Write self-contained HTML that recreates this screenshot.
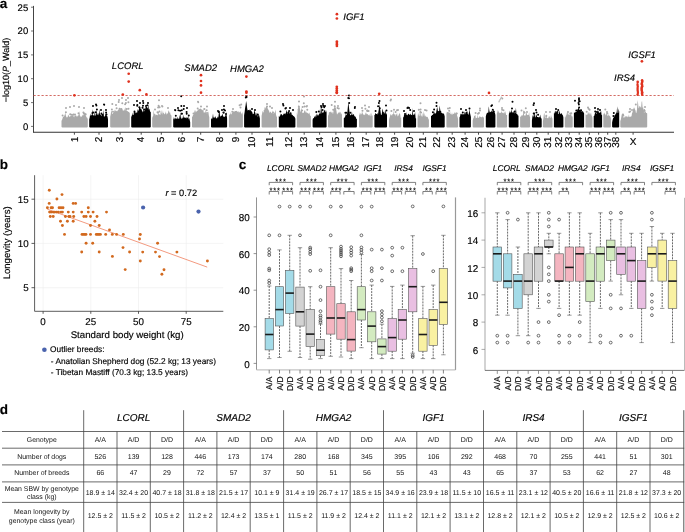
<!DOCTYPE html>
<html><head><meta charset="utf-8"><style>
html,body{margin:0;padding:0;background:#fff;}
svg{display:block;will-change:transform;}
text{font-family:"Liberation Sans", sans-serif;fill:#000;stroke:#000;stroke-width:0.15px;text-rendering:geometricPrecision;}
text.tb{stroke:none;fill:#111;}
</style></head><body>
<svg width="685" height="532" viewBox="0 0 685 532">
<rect width="685" height="532" fill="#fff"/>
<text x="-0.3" y="8.2" font-size="13.5" font-weight="bold">a</text>
<text transform="translate(8.6,70) rotate(-90)" font-size="9" text-anchor="middle">−log10(<tspan font-style="italic">P</tspan>_Wald)</text>
<line x1="31" y1="126.4" x2="33.5" y2="126.4" stroke="#666" stroke-width="0.9"/>
<text x="28.2" y="129.8" font-size="9.5" text-anchor="end">0</text>
<line x1="31" y1="102.6" x2="33.5" y2="102.6" stroke="#666" stroke-width="0.9"/>
<text x="28.2" y="106.0" font-size="9.5" text-anchor="end">5</text>
<line x1="31" y1="78.7" x2="33.5" y2="78.7" stroke="#666" stroke-width="0.9"/>
<text x="28.2" y="82.1" font-size="9.5" text-anchor="end">10</text>
<line x1="31" y1="54.9" x2="33.5" y2="54.9" stroke="#666" stroke-width="0.9"/>
<text x="28.2" y="58.3" font-size="9.5" text-anchor="end">15</text>
<line x1="31" y1="31.0" x2="33.5" y2="31.0" stroke="#666" stroke-width="0.9"/>
<text x="28.2" y="34.4" font-size="9.5" text-anchor="end">20</text>
<line x1="31" y1="7.2" x2="33.5" y2="7.2" stroke="#666" stroke-width="0.9"/>
<text x="28.2" y="10.6" font-size="9.5" text-anchor="end">25</text>
<line x1="33.5" y1="5.9" x2="33.5" y2="132.3" stroke="#444" stroke-width="1"/>
<line x1="33.0" y1="132.3" x2="674.0" y2="132.3" stroke="#333" stroke-width="1.1"/>
<path d="M61.5,126.8 Q61.5,127.6 62.5,127.6 L86.8,127.6 Q87.8,127.6 87.8,126.8 L87.8,119.3 L87.3,117.7 L86.8,117.6 L86.3,117.1 L85.8,113.2 L85.3,116.1 L84.8,113.8 L84.3,113.3 L83.8,115.8 L83.2,113.4 L82.7,116.3 L82.2,114.4 L81.7,116.9 L81.2,116.4 L80.7,116.1 L80.2,117.5 L79.7,110.7 L79.2,115.6 L78.7,116.2 L78.2,113.2 L77.7,116.7 L77.2,116.1 L76.7,116.8 L76.2,115.6 L75.7,115.0 L75.2,116.0 L74.7,115.1 L74.1,117.4 L73.6,116.5 L73.1,113.4 L72.6,115.4 L72.1,115.1 L71.6,116.2 L71.1,115.3 L70.6,116.1 L70.1,116.4 L69.6,117.1 L69.1,116.3 L68.6,115.5 L68.1,114.5 L67.6,117.3 L67.1,117.3 L66.6,117.4 L66.1,116.2 L65.5,112.0 L65.0,116.4 L64.5,114.0 L64.0,116.8 L63.5,116.5 L63.0,116.8 L62.5,118.6 L62.0,120.1 L61.5,120.7 Z" fill="#a9a9a9"/>
<path d="M62.6 115.4h0M71.5 114.8h0M85.7 114.2h0M75.0 114.6h0M78.9 116.4h0M84.4 113.5h0M83.8 113.3h0M65.9 112.3h0M66.0 108.0h0M70.2 114.2h0M70.0 107.0h0M73.4 114.4h0M74.0 106.0h0M78.5 113.3h0M79.0 107.0h0M83.4 112.6h0M84.0 108.0h0" stroke="#a9a9a9" stroke-width="2" stroke-linecap="round" fill="none"/>
<line x1="74.4" y1="132.3" x2="74.4" y2="134.7" stroke="#333" stroke-width="0.9"/>
<text transform="translate(77.5,136.6) rotate(-90)" font-size="10" text-anchor="end">1</text>
<path d="M89.2,126.8 Q89.2,127.6 90.2,127.6 L107.0,127.6 Q108.0,127.6 108.0,126.8 L108.0,119.2 L107.5,116.6 L107.0,116.0 L106.5,114.6 L106.0,115.9 L105.5,112.8 L105.0,116.2 L104.4,116.4 L103.9,116.4 L103.4,109.7 L102.9,115.3 L102.4,113.8 L101.9,115.3 L101.4,116.3 L100.9,115.3 L100.4,114.5 L99.9,113.7 L99.4,109.1 L98.9,115.4 L98.3,113.3 L97.8,113.3 L97.3,115.3 L96.8,114.3 L96.3,109.5 L95.8,115.8 L95.3,115.6 L94.8,110.8 L94.3,115.8 L93.8,115.3 L93.3,115.6 L92.8,115.0 L92.2,109.1 L91.7,115.6 L91.2,115.1 L90.7,115.9 L90.2,113.5 L89.7,117.6 L89.2,119.4 Z" fill="#000"/>
<path d="M93.2 112.4h0M95.8 112.3h0M106.5 114.5h0M96.9 109.6h0M102.4 115.1h0M92.5 113.0h0M93.0 106.0h0M96.4 105.5h0M96.0 104.6h0M101.5 113.4h0M101.0 110.0h0M104.2 104.8h0M104.0 104.6h0M106.1 112.6h0M106.0 110.0h0" stroke="#000" stroke-width="2" stroke-linecap="round" fill="none"/>
<line x1="99" y1="132.3" x2="99" y2="134.7" stroke="#333" stroke-width="0.9"/>
<text transform="translate(102.1,136.6) rotate(-90)" font-size="10" text-anchor="end">2</text>
<path d="M110.2,126.8 Q110.2,127.6 111.2,127.6 L128.8,127.6 Q129.8,127.6 129.8,126.8 L129.8,113.1 L129.3,112.6 L128.8,111.8 L128.3,111.9 L127.8,110.9 L127.3,111.2 L126.8,111.0 L126.3,109.3 L125.8,110.7 L125.3,106.9 L124.8,108.7 L124.3,110.6 L123.8,110.5 L123.3,110.4 L122.8,110.6 L122.3,109.0 L121.8,109.0 L121.3,108.7 L120.8,109.4 L120.3,109.0 L119.7,108.9 L119.2,109.4 L118.7,109.4 L118.2,109.5 L117.7,110.6 L117.2,111.3 L116.7,111.8 L116.2,111.7 L115.7,112.3 L115.2,109.2 L114.7,112.1 L114.2,109.2 L113.7,112.8 L113.2,112.5 L112.7,113.7 L112.2,114.1 L111.7,111.0 L111.2,110.9 L110.7,114.6 L110.2,116.8 Z" fill="#a9a9a9"/>
<path d="M112.3 103.9h0M125.1 104.2h0M113.0 111.7h0M111.9 109.4h0M116.0 111.8h0M116.6 108.2h0M116.0 105.0h0M118.7 101.9h0M119.6 108.8h0M119.0 100.0h0M122.3 103.2h0M121.4 109.0h0M122.0 98.0h0M125.9 103.1h0M126.6 109.1h0M126.0 100.0h0M128.4 102.3h0M128.5 108.7h0M128.0 98.0h0" stroke="#a9a9a9" stroke-width="2" stroke-linecap="round" fill="none"/>
<line x1="120.1" y1="132.3" x2="120.1" y2="134.7" stroke="#333" stroke-width="0.9"/>
<text transform="translate(123.2,136.6) rotate(-90)" font-size="10" text-anchor="end">3</text>
<path d="M131.2,126.8 Q131.2,127.6 132.2,127.6 L149.8,127.6 Q150.8,127.6 150.8,126.8 L150.8,111.4 L150.3,112.3 L149.8,110.3 L149.3,108.4 L148.8,109.8 L148.3,104.6 L147.8,108.3 L147.3,108.3 L146.8,107.4 L146.3,106.4 L145.8,107.5 L145.3,109.1 L144.8,110.0 L144.3,110.9 L143.8,111.8 L143.3,107.4 L142.8,112.4 L142.3,111.3 L141.8,110.3 L141.3,109.1 L140.7,109.1 L140.2,107.1 L139.7,108.0 L139.2,107.5 L138.7,110.0 L138.2,111.1 L137.7,109.1 L137.2,112.5 L136.7,113.6 L136.2,113.9 L135.7,113.8 L135.2,113.7 L134.7,113.5 L134.2,113.8 L133.7,114.5 L133.2,114.8 L132.7,115.3 L132.2,112.4 L131.7,117.0 L131.2,115.4 Z" fill="#000"/>
<path d="M146.4 107.9h0M142.5 107.7h0M144.2 109.5h0M136.2 113.4h0M134.5 112.9h0M134.5 111.6h0M134.0 105.0h0M137.2 105.8h0M137.3 105.0h0M137.0 101.0h0M139.3 107.2h0M140.0 103.0h0M143.3 102.9h0M143.0 105.8h0M143.0 101.0h0M146.0 106.0h0M147.4 105.2h0M148.0 103.0h0" stroke="#000" stroke-width="2" stroke-linecap="round" fill="none"/>
<line x1="141.2" y1="132.3" x2="141.2" y2="134.7" stroke="#333" stroke-width="0.9"/>
<text transform="translate(144.3,136.6) rotate(-90)" font-size="10" text-anchor="end">4</text>
<path d="M152.2,126.8 Q152.2,127.6 153.2,127.6 L170.5,127.6 Q171.5,127.6 171.5,126.8 L171.5,115.8 L171.0,115.0 L170.5,114.6 L170.0,111.8 L169.5,113.2 L169.0,110.8 L168.5,110.6 L167.9,113.2 L167.4,113.7 L166.9,113.3 L166.4,114.9 L165.9,111.2 L165.4,113.3 L164.9,113.8 L164.4,114.5 L163.9,113.1 L163.4,113.3 L162.9,110.2 L162.4,114.9 L161.8,109.8 L161.3,114.2 L160.8,111.2 L160.3,115.0 L159.8,114.8 L159.3,114.1 L158.8,114.6 L158.3,113.1 L157.8,114.4 L157.3,115.4 L156.8,114.8 L156.3,114.7 L155.8,115.5 L155.2,113.9 L154.7,113.4 L154.2,114.6 L153.7,109.4 L153.2,115.9 L152.7,116.5 L152.2,117.9 Z" fill="#a9a9a9"/>
<path d="M159.4 111.6h0M158.0 112.8h0M155.0 109.6h0M158.1 107.4h0M157.5 112.3h0M158.6 105.7h0M159.6 107.2h0M159.0 100.3h0M162.4 106.6h0M162.0 106.0h0M168.0 108.0h0" stroke="#a9a9a9" stroke-width="2" stroke-linecap="round" fill="none"/>
<line x1="161.3" y1="132.3" x2="161.3" y2="134.7" stroke="#333" stroke-width="0.9"/>
<text transform="translate(164.4,136.6) rotate(-90)" font-size="10" text-anchor="end">5</text>
<path d="M173.2,126.8 Q173.2,127.6 174.2,127.6 L189.2,127.6 Q190.2,127.6 190.2,126.8 L190.2,122.2 L189.7,120.1 L189.2,117.9 L188.7,119.4 L188.2,115.8 L187.7,117.5 L187.2,118.1 L186.7,118.4 L186.2,116.8 L185.7,118.2 L185.2,117.4 L184.7,117.7 L184.2,117.3 L183.7,117.7 L183.2,114.7 L182.7,117.8 L182.2,118.4 L181.7,118.6 L181.2,118.8 L180.7,112.1 L180.2,118.3 L179.7,114.7 L179.2,118.7 L178.7,118.5 L178.2,118.7 L177.7,118.8 L177.2,116.8 L176.7,118.6 L176.2,119.1 L175.7,118.8 L175.2,117.4 L174.7,118.0 L174.2,119.6 L173.7,119.0 L173.2,116.7 Z" fill="#000"/>
<path d="M180.1 110.8h0M186.6 112.1h0M188.8 115.4h0M175.8 115.7h0M182.0 113.7h0M175.3 110.3h0M175.0 110.0h0M178.4 110.3h0M178.0 108.0h0M181.3 106.1h0M181.6 113.8h0M181.8 110.2h0M181.2 96.2h0M183.7 109.0h0M184.0 106.0h0M186.7 113.7h0M187.0 108.0h0" stroke="#000" stroke-width="2" stroke-linecap="round" fill="none"/>
<line x1="182.3" y1="132.3" x2="182.3" y2="134.7" stroke="#333" stroke-width="0.9"/>
<text transform="translate(185.4,136.6) rotate(-90)" font-size="10" text-anchor="end">6</text>
<path d="M192.0,126.8 Q192.0,127.6 193.0,127.6 L208.3,127.6 Q209.3,127.6 209.3,126.8 L209.3,117.2 L208.8,115.2 L208.3,111.2 L207.8,113.5 L207.3,113.9 L206.8,111.7 L206.2,114.3 L205.7,109.1 L205.2,113.1 L204.7,112.7 L204.2,112.7 L203.7,112.6 L203.2,107.8 L202.7,110.7 L202.2,109.8 L201.7,110.6 L201.2,108.9 L200.7,108.8 L200.1,108.4 L199.6,109.0 L199.1,109.6 L198.6,109.2 L198.1,110.6 L197.6,110.5 L197.1,110.8 L196.6,111.3 L196.1,112.2 L195.6,109.8 L195.1,112.8 L194.5,109.7 L194.0,113.9 L193.5,114.7 L193.0,114.7 L192.5,116.9 L192.0,116.3 Z" fill="#a9a9a9"/>
<path d="M199.3 110.2h0M204.7 113.4h0M193.5 113.4h0M207.1 112.9h0M204.4 108.9h0M197.7 108.5h0M198.2 102.2h0M198.0 101.8h0M201.3 110.5h0M201.0 106.4h0M206.7 110.2h0M207.0 106.4h0" stroke="#a9a9a9" stroke-width="2" stroke-linecap="round" fill="none"/>
<line x1="200.7" y1="132.3" x2="200.7" y2="134.7" stroke="#333" stroke-width="0.9"/>
<text transform="translate(203.8,136.6) rotate(-90)" font-size="10" text-anchor="end">7</text>
<path d="M211.0,126.8 Q211.0,127.6 212.0,127.6 L226.1,127.6 Q227.1,127.6 227.1,126.8 L227.1,118.8 L226.6,111.4 L226.1,117.0 L225.6,113.2 L225.1,116.6 L224.6,117.0 L224.1,116.4 L223.6,116.6 L223.1,116.7 L222.6,113.7 L222.1,114.8 L221.6,115.8 L221.1,116.0 L220.6,115.7 L220.1,117.2 L219.6,110.7 L219.1,110.8 L218.5,116.3 L218.0,118.0 L217.5,116.2 L217.0,118.7 L216.5,118.0 L216.0,118.4 L215.5,116.6 L215.0,116.5 L214.5,118.2 L214.0,117.1 L213.5,117.9 L213.0,113.4 L212.5,117.3 L212.0,119.5 L211.5,118.4 L211.0,118.3 Z" fill="#000"/>
<path d="M223.4 112.5h0M226.0 114.0h0M218.7 111.9h0M223.9 109.6h0M218.0 111.0h0M222.0 110.0h0M225.0 110.5h0M223.7 112.7h0M224.0 106.0h0" stroke="#000" stroke-width="2" stroke-linecap="round" fill="none"/>
<line x1="219.6" y1="132.3" x2="219.6" y2="134.7" stroke="#333" stroke-width="0.9"/>
<text transform="translate(222.7,136.6) rotate(-90)" font-size="10" text-anchor="end">8</text>
<path d="M228.9,126.8 Q228.9,127.6 229.9,127.6 L241.9,127.6 Q242.9,127.6 242.9,126.8 L242.9,115.3 L242.4,111.6 L241.9,114.4 L241.4,113.3 L240.9,112.8 L240.4,110.8 L239.9,112.8 L239.4,111.4 L238.9,112.7 L238.4,111.2 L237.9,111.2 L237.4,112.0 L236.9,111.3 L236.4,110.7 L235.9,111.1 L235.4,111.3 L234.9,110.7 L234.4,112.0 L233.9,111.3 L233.4,111.3 L232.9,112.4 L232.4,112.0 L231.9,113.4 L231.4,114.7 L230.9,111.9 L230.4,113.9 L229.9,114.6 L229.4,114.4 L228.9,115.9 Z" fill="#a9a9a9"/>
<path d="M239.6 105.2h0M232.3 111.7h0M241.2 104.6h0M235.7 111.9h0M233.0 109.0h0M240.5 107.6h0" stroke="#a9a9a9" stroke-width="2" stroke-linecap="round" fill="none"/>
<line x1="235.9" y1="132.3" x2="235.9" y2="134.7" stroke="#333" stroke-width="0.9"/>
<text transform="translate(239.0,136.6) rotate(-90)" font-size="10" text-anchor="end">9</text>
<path d="M244.1,126.8 Q244.1,127.6 245.1,127.6 L258.9,127.6 Q259.9,127.6 259.9,126.8 L259.9,118.6 L259.4,116.2 L258.9,114.4 L258.4,115.1 L257.9,117.2 L257.4,114.2 L256.8,112.8 L256.3,115.2 L255.8,115.4 L255.3,113.1 L254.8,111.4 L254.3,109.8 L253.8,113.7 L253.3,113.9 L252.8,114.2 L252.3,112.3 L251.7,111.6 L251.2,110.8 L250.7,110.6 L250.2,109.6 L249.7,109.4 L249.2,110.9 L248.7,111.1 L248.2,111.7 L247.7,111.1 L247.2,108.5 L246.6,103.5 L246.1,101.0 L245.6,105.3 L245.1,108.0 L244.6,112.3 L244.1,115.3 Z" fill="#000"/>
<path d="M257.8 114.4h0M248.7 110.9h0M249.5 112.5h0M247.6 111.6h0M246.6 96.9h0M245.8 97.5h0M246.3 96.0h0M252.0 109.0h0M255.0 110.0h0" stroke="#000" stroke-width="2" stroke-linecap="round" fill="none"/>
<line x1="252" y1="132.3" x2="252" y2="134.7" stroke="#333" stroke-width="0.9"/>
<text transform="translate(255.1,136.6) rotate(-90)" font-size="10" text-anchor="end">10</text>
<path d="M261.6,126.8 Q261.6,127.6 262.6,127.6 L276.0,127.6 Q277.0,127.6 277.0,126.8 L277.0,116.9 L276.5,116.6 L276.0,114.8 L275.5,109.5 L274.9,112.2 L274.4,112.7 L273.9,113.8 L273.4,113.2 L272.9,110.2 L272.4,113.3 L271.9,113.3 L271.4,113.0 L270.8,111.6 L270.3,111.9 L269.8,112.9 L269.3,111.7 L268.8,110.4 L268.3,109.5 L267.8,108.8 L267.2,107.1 L266.7,107.0 L266.2,107.0 L265.7,107.2 L265.2,108.8 L264.7,106.7 L264.2,111.2 L263.7,112.5 L263.1,111.9 L262.6,110.7 L262.1,113.5 L261.6,115.8 Z" fill="#a9a9a9"/>
<path d="M265.8 111.4h0M273.0 112.5h0M270.0 106.4h0M264.5 110.9h0M267.0 106.4h0M267.0 104.0h0M272.0 108.0h0" stroke="#a9a9a9" stroke-width="2" stroke-linecap="round" fill="none"/>
<line x1="269.7" y1="132.3" x2="269.7" y2="134.7" stroke="#333" stroke-width="0.9"/>
<text transform="translate(272.8,136.6) rotate(-90)" font-size="10" text-anchor="end">11</text>
<path d="M278.8,126.8 Q278.8,127.6 279.8,127.6 L294.4,127.6 Q295.4,127.6 295.4,126.8 L295.4,118.7 L294.9,117.6 L294.4,116.8 L293.9,116.3 L293.4,115.9 L292.9,115.5 L292.4,114.7 L291.9,115.0 L291.4,113.6 L290.9,114.3 L290.4,113.0 L289.9,113.0 L289.4,113.9 L288.9,111.0 L288.4,112.4 L287.9,112.0 L287.4,114.1 L286.8,111.6 L286.3,109.8 L285.8,114.8 L285.3,112.7 L284.8,114.1 L284.3,113.6 L283.8,113.4 L283.3,114.5 L282.8,115.2 L282.3,115.6 L281.8,113.9 L281.3,113.9 L280.8,115.9 L280.3,113.3 L279.8,116.3 L279.3,116.9 L278.8,116.0 Z" fill="#000"/>
<path d="M280.4 111.5h0M289.1 111.0h0M290.6 113.2h0M288.4 112.5h0M283.4 105.5h0M283.0 104.0h0M285.4 108.4h0M286.0 108.0h0M290.0 108.0h0M293.0 110.0h0" stroke="#000" stroke-width="2" stroke-linecap="round" fill="none"/>
<line x1="288.4" y1="132.3" x2="288.4" y2="134.7" stroke="#333" stroke-width="0.9"/>
<text transform="translate(291.5,136.6) rotate(-90)" font-size="10" text-anchor="end">12</text>
<path d="M296.8,126.8 Q296.8,127.6 297.8,127.6 L309.9,127.6 Q310.9,127.6 310.9,126.8 L310.9,115.6 L310.4,116.2 L309.9,115.1 L309.4,112.3 L308.9,113.9 L308.4,113.5 L307.9,112.9 L307.4,113.2 L306.9,112.1 L306.4,113.2 L305.9,110.3 L305.4,112.9 L304.9,110.4 L304.4,110.3 L303.9,112.6 L303.3,112.9 L302.8,112.4 L302.3,113.3 L301.8,110.0 L301.3,107.6 L300.8,112.6 L300.3,110.7 L299.8,108.1 L299.3,105.9 L298.8,104.4 L298.3,107.7 L297.8,109.5 L297.3,115.4 L296.8,112.0 Z" fill="#a9a9a9"/>
<path d="M307.3 109.8h0M302.1 110.4h0M302.6 107.0h0M298.8 106.8h0M298.6 109.5h0M299.0 101.5h0M304.6 106.5h0M303.8 103.2h0M304.0 96.5h0M306.6 106.5h0M307.0 106.0h0" stroke="#a9a9a9" stroke-width="2" stroke-linecap="round" fill="none"/>
<line x1="304.2" y1="132.3" x2="304.2" y2="134.7" stroke="#333" stroke-width="0.9"/>
<text transform="translate(307.3,136.6) rotate(-90)" font-size="10" text-anchor="end">13</text>
<path d="M312.6,126.8 Q312.6,127.6 313.6,127.6 L325.6,127.6 Q326.6,127.6 326.6,126.8 L326.6,110.0 L326.1,112.2 L325.6,112.1 L325.1,110.1 L324.6,109.8 L324.1,110.9 L323.6,111.7 L323.1,112.9 L322.6,112.9 L322.1,111.3 L321.6,106.6 L321.1,113.7 L320.6,113.5 L320.1,107.6 L319.6,113.7 L319.1,113.7 L318.6,114.9 L318.1,115.7 L317.6,113.9 L317.1,116.0 L316.6,113.3 L316.1,117.0 L315.6,114.9 L315.1,117.4 L314.6,116.0 L314.1,117.6 L313.6,118.5 L313.1,117.9 L312.6,119.9 Z" fill="#000"/>
<path d="M318.8 111.5h0M322.6 110.1h0M316.3 111.9h0M324.2 107.3h0M321.5 107.3h0M321.0 106.0h0M323.2 105.7h0M323.0 104.0h0M325.0 106.0h0" stroke="#000" stroke-width="2" stroke-linecap="round" fill="none"/>
<line x1="319.6" y1="132.3" x2="319.6" y2="134.7" stroke="#333" stroke-width="0.9"/>
<text transform="translate(322.7,136.6) rotate(-90)" font-size="10" text-anchor="end">14</text>
<path d="M328.0,126.8 Q328.0,127.6 329.0,127.6 L341.0,127.6 Q342.0,127.6 342.0,126.8 L342.0,115.0 L341.5,112.9 L341.0,114.5 L340.5,111.4 L340.0,112.9 L339.5,111.4 L339.0,113.4 L338.5,112.1 L338.0,113.2 L337.5,113.8 L337.0,114.7 L336.5,111.3 L336.0,108.5 L335.5,107.4 L335.0,105.2 L334.5,107.0 L334.0,108.0 L333.5,110.9 L333.0,114.2 L332.5,112.6 L332.0,111.3 L331.5,113.3 L331.0,111.4 L330.5,111.7 L330.0,112.4 L329.5,112.1 L329.0,111.9 L328.5,115.2 L328.0,115.5 Z" fill="#a9a9a9"/>
<path d="M334.6 110.1h0M331.7 105.0h0M333.2 109.7h0M338.8 108.5h0M334.7 106.3h0M335.0 101.8h0M337.5 108.0h0M338.0 106.0h0" stroke="#a9a9a9" stroke-width="2" stroke-linecap="round" fill="none"/>
<line x1="335.9" y1="132.3" x2="335.9" y2="134.7" stroke="#333" stroke-width="0.9"/>
<text transform="translate(339.0,136.6) rotate(-90)" font-size="10" text-anchor="end">15</text>
<path d="M343.8,126.8 Q343.8,127.6 344.8,127.6 L355.9,127.6 Q356.9,127.6 356.9,126.8 L356.9,119.0 L356.4,119.1 L355.9,117.5 L355.4,116.7 L354.9,116.0 L354.4,116.6 L353.9,114.1 L353.4,114.4 L352.9,114.4 L352.4,115.2 L351.9,111.3 L351.4,114.8 L350.9,114.8 L350.4,115.4 L349.8,114.0 L349.3,110.3 L348.8,106.0 L348.3,102.1 L347.8,107.5 L347.3,112.7 L346.8,114.4 L346.3,115.2 L345.8,113.7 L345.3,116.2 L344.8,117.0 L344.3,118.0 L343.8,118.3 Z" fill="#000"/>
<path d="M345.4 112.8h0M346.4 112.7h0M350.3 112.7h0M348.3 97.9h0M349.0 98.2h0M349.2 103.0h0M349.0 95.5h0M354.8 107.9h0M355.0 107.0h0" stroke="#000" stroke-width="2" stroke-linecap="round" fill="none"/>
<line x1="350.4" y1="132.3" x2="350.4" y2="134.7" stroke="#333" stroke-width="0.9"/>
<text transform="translate(353.5,136.6) rotate(-90)" font-size="10" text-anchor="end">16</text>
<path d="M359.0,126.8 Q359.0,127.6 360.0,127.6 L371.7,127.6 Q372.7,127.6 372.7,126.8 L372.7,115.1 L372.2,116.1 L371.7,112.6 L371.2,116.2 L370.7,116.2 L370.2,112.7 L369.7,116.0 L369.1,114.2 L368.6,115.2 L368.1,115.3 L367.6,113.9 L367.1,114.0 L366.6,114.2 L366.1,112.6 L365.6,112.8 L365.1,114.7 L364.6,115.3 L364.1,114.2 L363.6,114.7 L363.1,114.4 L362.6,112.9 L362.0,111.6 L361.5,114.3 L361.0,114.3 L360.5,112.8 L360.0,115.4 L359.5,114.6 L359.0,112.2 Z" fill="#a9a9a9"/>
<path d="M367.2 111.1h0M367.3 110.6h0M367.0 110.7h0M362.5 110.8h0M362.0 108.0h0M365.4 108.7h0M365.0 105.4h0M368.6 111.0h0M369.0 107.0h0" stroke="#a9a9a9" stroke-width="2" stroke-linecap="round" fill="none"/>
<line x1="366.2" y1="132.3" x2="366.2" y2="134.7" stroke="#333" stroke-width="0.9"/>
<text transform="translate(369.3,136.6) rotate(-90)" font-size="10" text-anchor="end">17</text>
<path d="M374.4,126.8 Q374.4,127.6 375.4,127.6 L386.0,127.6 Q387.0,127.6 387.0,126.8 L387.0,112.4 L386.5,114.0 L386.0,114.8 L385.5,110.6 L385.0,111.0 L384.5,113.6 L384.0,113.2 L383.5,113.5 L383.0,110.5 L382.5,108.6 L382.0,112.7 L381.5,115.1 L381.0,115.1 L380.4,110.4 L379.9,107.9 L379.4,104.0 L378.9,108.7 L378.4,111.4 L377.9,114.9 L377.4,112.8 L376.9,113.9 L376.4,114.1 L375.9,113.7 L375.4,112.8 L374.9,114.9 L374.4,114.7 Z" fill="#000"/>
<path d="M378.1 106.3h0M383.0 113.0h0M375.6 110.9h0M378.9 102.9h0M379.8 108.2h0M379.5 101.0h0M386.5 110.5h0M386.0 105.4h0" stroke="#000" stroke-width="2" stroke-linecap="round" fill="none"/>
<line x1="379.7" y1="132.3" x2="379.7" y2="134.7" stroke="#333" stroke-width="0.9"/>
<text transform="translate(382.8,136.6) rotate(-90)" font-size="10" text-anchor="end">18</text>
<path d="M389.0,126.8 Q389.0,127.6 390.0,127.6 L400.2,127.6 Q401.2,127.6 401.2,126.8 L401.2,117.2 L400.7,118.1 L400.2,114.3 L399.7,113.5 L399.2,113.2 L398.7,115.1 L398.1,116.1 L397.6,116.6 L397.1,113.1 L396.6,114.9 L396.1,113.3 L395.6,116.4 L395.1,114.0 L394.6,114.9 L394.1,113.8 L393.6,110.4 L393.1,116.4 L392.6,114.4 L392.1,113.9 L391.5,115.7 L391.0,114.8 L390.5,114.1 L390.0,116.2 L389.5,117.7 L389.0,120.1 Z" fill="#a9a9a9"/>
<path d="M397.0 110.3h0M393.5 115.1h0M395.6 112.0h0M391.4 111.0h0M390.6 100.6h0M391.0 99.6h0M394.0 109.8h0M398.0 110.0h0" stroke="#a9a9a9" stroke-width="2" stroke-linecap="round" fill="none"/>
<line x1="394.6" y1="132.3" x2="394.6" y2="134.7" stroke="#333" stroke-width="0.9"/>
<text transform="translate(397.7,136.6) rotate(-90)" font-size="10" text-anchor="end">19</text>
<path d="M403.1,126.8 Q403.1,127.6 404.1,127.6 L415.1,127.6 Q416.1,127.6 416.1,126.8 L416.1,118.5 L415.6,118.2 L415.1,112.1 L414.6,114.0 L414.1,114.8 L413.6,115.0 L413.1,114.3 L412.6,108.0 L412.1,115.5 L411.6,114.8 L411.1,115.1 L410.6,113.4 L410.1,114.7 L409.6,114.9 L409.1,114.1 L408.6,114.1 L408.1,113.6 L407.6,115.6 L407.1,114.7 L406.6,115.0 L406.1,112.1 L405.6,115.3 L405.1,112.8 L404.6,115.1 L404.1,114.4 L403.6,117.5 L403.1,116.9 Z" fill="#000"/>
<path d="M405.0 113.9h0M410.2 109.9h0M409.1 108.1h0M404.0 111.0h0M407.4 108.0h0M408.0 107.6h0M414.0 111.0h0" stroke="#000" stroke-width="2" stroke-linecap="round" fill="none"/>
<line x1="409.5" y1="132.3" x2="409.5" y2="134.7" stroke="#333" stroke-width="0.9"/>
<text transform="translate(412.6,136.6) rotate(-90)" font-size="10" text-anchor="end">20</text>
<path d="M417.5,126.8 Q417.5,127.6 418.5,127.6 L427.9,127.6 Q428.9,127.6 428.9,126.8 L428.9,119.7 L428.4,118.9 L427.9,117.6 L427.3,116.8 L426.8,116.9 L426.3,116.7 L425.8,115.4 L425.3,117.0 L424.8,112.8 L424.2,116.9 L423.7,110.7 L423.2,115.4 L422.7,117.1 L422.2,113.0 L421.6,115.8 L421.1,116.7 L420.6,110.0 L420.1,116.2 L419.6,115.8 L419.1,111.3 L418.5,115.9 L418.0,113.1 L417.5,118.9 Z" fill="#a9a9a9"/>
<path d="M418.8 109.7h0M420.6 109.6h0M426.6 110.6h0M420.4 112.1h0M421.1 112.5h0M420.5 103.2h0M425.0 110.0h0" stroke="#a9a9a9" stroke-width="2" stroke-linecap="round" fill="none"/>
<line x1="423.3" y1="132.3" x2="423.3" y2="134.7" stroke="#333" stroke-width="0.9"/>
<text transform="translate(426.4,136.6) rotate(-90)" font-size="10" text-anchor="end">21</text>
<path d="M431.0,126.8 Q431.0,127.6 432.0,127.6 L443.7,127.6 Q444.7,127.6 444.7,126.8 L444.7,116.4 L444.2,114.5 L443.7,113.6 L443.2,113.6 L442.7,113.2 L442.2,113.6 L441.7,112.6 L441.1,112.8 L440.6,112.0 L440.1,108.7 L439.6,105.5 L439.1,112.3 L438.6,112.4 L438.1,112.6 L437.6,109.0 L437.1,106.9 L436.6,109.8 L436.1,112.7 L435.6,113.5 L435.1,113.4 L434.6,113.4 L434.0,111.1 L433.5,113.5 L433.0,114.6 L432.5,114.9 L432.0,114.9 L431.5,115.9 L431.0,115.9 Z" fill="#000"/>
<path d="M438.7 111.9h0M434.1 109.4h0M440.3 111.7h0M432.9 112.2h0M436.5 105.9h0M436.5 102.8h0" stroke="#000" stroke-width="2" stroke-linecap="round" fill="none"/>
<line x1="437.1" y1="132.3" x2="437.1" y2="134.7" stroke="#333" stroke-width="0.9"/>
<text transform="translate(440.2,136.6) rotate(-90)" font-size="10" text-anchor="end">22</text>
<path d="M446.4,126.8 Q446.4,127.6 447.4,127.6 L457.1,127.6 Q458.1,127.6 458.1,126.8 L458.1,119.2 L457.6,116.9 L457.1,115.8 L456.6,112.0 L456.1,113.2 L455.6,113.4 L455.0,112.1 L454.5,112.8 L454.0,113.9 L453.5,113.7 L453.0,113.8 L452.5,114.9 L452.0,112.2 L451.5,114.7 L451.0,113.9 L450.5,114.3 L450.0,110.8 L449.5,113.0 L448.9,113.0 L448.4,111.8 L447.9,112.3 L447.4,112.0 L446.9,111.8 L446.4,114.1 Z" fill="#a9a9a9"/>
<path d="M456.8 113.5h0M449.2 110.8h0M449.8 107.9h0M448.0 108.5h0" stroke="#a9a9a9" stroke-width="2" stroke-linecap="round" fill="none"/>
<line x1="452.2" y1="132.3" x2="452.2" y2="134.7" stroke="#333" stroke-width="0.9"/>
<text transform="translate(455.3,136.6) rotate(-90)" font-size="10" text-anchor="end">23</text>
<path d="M459.5,126.8 Q459.5,127.6 460.5,127.6 L469.9,127.6 Q470.9,127.6 470.9,126.8 L470.9,117.1 L470.4,114.7 L469.9,112.5 L469.3,108.7 L468.8,114.6 L468.3,114.8 L467.8,110.5 L467.3,114.1 L466.8,114.0 L466.2,110.4 L465.7,114.4 L465.2,113.0 L464.7,111.4 L464.2,114.4 L463.6,114.5 L463.1,113.7 L462.6,114.7 L462.1,113.2 L461.6,114.7 L461.1,113.5 L460.5,114.1 L460.0,116.6 L459.5,117.5 Z" fill="#000"/>
<path d="M469.5 108.5h0M462.8 112.5h0M466.4 112.9h0M461.0 109.0h0M466.0 110.0h0" stroke="#000" stroke-width="2" stroke-linecap="round" fill="none"/>
<line x1="465.1" y1="132.3" x2="465.1" y2="134.7" stroke="#333" stroke-width="0.9"/>
<text transform="translate(468.2,136.6) rotate(-90)" font-size="10" text-anchor="end">24</text>
<path d="M472.7,126.8 Q472.7,127.6 473.7,127.6 L483.0,127.6 Q484.0,127.6 484.0,126.8 L484.0,117.9 L483.5,117.0 L483.0,117.4 L482.5,116.3 L481.9,117.1 L481.4,117.6 L480.9,116.8 L480.4,117.0 L479.9,116.3 L479.4,116.5 L478.9,117.9 L478.4,117.6 L477.8,118.1 L477.3,114.3 L476.8,118.1 L476.3,118.0 L475.8,118.4 L475.3,114.6 L474.8,116.2 L474.2,115.2 L473.7,117.9 L473.2,118.5 L472.7,120.6 Z" fill="#a9a9a9"/>
<path d="M479.0 113.1h0M475.6 113.1h0M478.0 113.7h0M480.0 110.4h0M480.0 108.4h0" stroke="#a9a9a9" stroke-width="2" stroke-linecap="round" fill="none"/>
<line x1="478.5" y1="132.3" x2="478.5" y2="134.7" stroke="#333" stroke-width="0.9"/>
<text transform="translate(481.6,136.6) rotate(-90)" font-size="10" text-anchor="end">25</text>
<path d="M485.8,126.8 Q485.8,127.6 486.8,127.6 L494.4,127.6 Q495.4,127.6 495.4,126.8 L495.4,115.0 L494.9,112.7 L494.4,112.6 L493.9,109.5 L493.4,110.5 L492.9,111.9 L492.4,110.7 L491.9,112.1 L491.4,110.3 L490.9,111.7 L490.3,112.1 L489.8,112.6 L489.3,110.6 L488.8,106.3 L488.3,112.4 L487.8,113.0 L487.3,112.6 L486.8,113.3 L486.3,114.6 L485.8,116.5 Z" fill="#000"/>
<path d="M492.8 109.7h0M493.8 111.8h0M491.3 105.9h0M492.0 105.2h0" stroke="#000" stroke-width="2" stroke-linecap="round" fill="none"/>
<line x1="490.7" y1="132.3" x2="490.7" y2="134.7" stroke="#333" stroke-width="0.9"/>
<text transform="translate(493.8,136.6) rotate(-90)" font-size="10" text-anchor="end">26</text>
<path d="M496.8,126.8 Q496.8,127.6 497.8,127.6 L506.1,127.6 Q507.1,127.6 507.1,126.8 L507.1,115.1 L506.6,115.1 L506.1,115.1 L505.6,110.7 L505.0,114.3 L504.5,111.3 L504.0,113.3 L503.5,113.3 L503.0,112.0 L502.5,113.1 L502.0,113.0 L501.4,110.8 L500.9,113.0 L500.4,112.4 L499.9,113.3 L499.4,112.6 L498.9,112.8 L498.3,110.2 L497.8,113.3 L497.3,109.6 L496.8,114.5 Z" fill="#a9a9a9"/>
<path d="M502.3 98.5h0M502.1 109.8h0M503.5 110.3h0M502.0 108.0h0" stroke="#a9a9a9" stroke-width="2" stroke-linecap="round" fill="none"/>
<line x1="502.1" y1="132.3" x2="502.1" y2="134.7" stroke="#333" stroke-width="0.9"/>
<text transform="translate(505.2,136.6) rotate(-90)" font-size="10" text-anchor="end">27</text>
<path d="M508.8,126.8 Q508.8,127.6 509.8,127.6 L517.5,127.6 Q518.5,127.6 518.5,126.8 L518.5,115.6 L518.0,115.8 L517.5,114.4 L517.0,114.1 L516.5,114.0 L515.9,107.7 L515.4,112.5 L514.9,113.8 L514.4,111.1 L513.9,113.0 L513.4,111.1 L512.9,113.2 L512.4,111.8 L511.9,112.5 L511.4,109.6 L510.8,111.7 L510.3,112.5 L509.8,113.4 L509.3,110.5 L508.8,115.0 Z" fill="#000"/>
<path d="M512.5 101.7h0M514.7 111.6h0M512.0 108.6h0" stroke="#000" stroke-width="2" stroke-linecap="round" fill="none"/>
<line x1="514" y1="132.3" x2="514" y2="134.7" stroke="#333" stroke-width="0.9"/>
<text transform="translate(517.1,136.6) rotate(-90)" font-size="10" text-anchor="end">28</text>
<path d="M520.1,126.8 Q520.1,127.6 521.1,127.6 L529.1,127.6 Q530.1,127.6 530.1,126.8 L530.1,116.9 L529.6,116.2 L529.1,112.1 L528.6,115.0 L528.1,114.9 L527.6,114.8 L527.1,115.2 L526.6,113.0 L526.1,112.7 L525.6,115.3 L525.1,115.8 L524.6,115.5 L524.1,115.3 L523.6,109.2 L523.1,114.4 L522.6,115.1 L522.1,116.1 L521.6,115.0 L521.1,116.4 L520.6,116.5 L520.1,117.0 Z" fill="#a9a9a9"/>
<path d="M521.5 110.5h0M525.8 108.3h0M524.6 112.8h0M524.0 112.0h0M527.0 112.0h0" stroke="#a9a9a9" stroke-width="2" stroke-linecap="round" fill="none"/>
<line x1="525.4" y1="132.3" x2="525.4" y2="134.7" stroke="#333" stroke-width="0.9"/>
<text transform="translate(528.5,136.6) rotate(-90)" font-size="10" text-anchor="end">29</text>
<path d="M531.9,126.8 Q531.9,127.6 532.9,127.6 L540.7,127.6 Q541.7,127.6 541.7,126.8 L541.7,119.3 L541.2,118.1 L540.7,117.6 L540.2,114.4 L539.6,117.5 L539.1,117.0 L538.6,117.6 L538.1,117.1 L537.6,116.9 L537.1,117.1 L536.5,115.1 L536.0,114.3 L535.5,117.6 L535.0,117.0 L534.5,113.1 L534.0,112.7 L533.4,117.5 L532.9,114.9 L532.4,116.7 L531.9,120.4 Z" fill="#000"/>
<path d="M538.1 114.8h0M534.1 113.4h0M533.7 113.4h0M533.5 105.0h0M534.0 103.2h0M536.5 112.4h0M536.0 110.0h0" stroke="#000" stroke-width="2" stroke-linecap="round" fill="none"/>
<line x1="536.8" y1="132.3" x2="536.8" y2="134.7" stroke="#333" stroke-width="0.9"/>
<text transform="translate(539.9,136.6) rotate(-90)" font-size="10" text-anchor="end">30</text>
<path d="M542.9,126.8 Q542.9,127.6 543.9,127.6 L551.5,127.6 Q552.5,127.6 552.5,126.8 L552.5,118.8 L552.0,117.8 L551.5,116.9 L551.0,114.8 L550.5,118.0 L550.0,117.7 L549.5,116.5 L549.0,116.0 L548.5,117.4 L548.0,118.5 L547.4,117.9 L546.9,117.8 L546.4,116.9 L545.9,117.5 L545.4,117.6 L544.9,117.5 L544.4,113.1 L543.9,114.0 L543.4,118.3 L542.9,121.2 Z" fill="#a9a9a9"/>
<path d="M546.2 116.2h0M546.3 115.8h0M546.0 112.0h0M550.0 112.0h0" stroke="#a9a9a9" stroke-width="2" stroke-linecap="round" fill="none"/>
<line x1="548.2" y1="132.3" x2="548.2" y2="134.7" stroke="#333" stroke-width="0.9"/>
<text transform="translate(551.3,136.6) rotate(-90)" font-size="10" text-anchor="end">31</text>
<path d="M553.9,126.8 Q553.9,127.6 554.9,127.6 L562.4,127.6 Q563.4,127.6 563.4,126.8 L563.4,117.4 L562.9,115.2 L562.4,114.9 L561.9,113.4 L561.4,113.3 L560.9,113.8 L560.4,114.3 L559.9,112.6 L559.4,110.2 L558.9,114.2 L558.4,113.5 L557.9,113.2 L557.4,111.5 L556.9,112.6 L556.4,111.1 L555.9,112.7 L555.4,110.4 L554.9,111.5 L554.4,113.5 L553.9,113.2 Z" fill="#000"/>
<path d="M558.2 110.0h0M557.5 112.1h0M556.0 109.0h0" stroke="#000" stroke-width="2" stroke-linecap="round" fill="none"/>
<line x1="558.7" y1="132.3" x2="558.7" y2="134.7" stroke="#333" stroke-width="0.9"/>
<text transform="translate(561.8,136.6) rotate(-90)" font-size="10" text-anchor="end">32</text>
<path d="M564.8,126.8 Q564.8,127.6 565.8,127.6 L571.7,127.6 Q572.7,127.6 572.7,126.8 L572.7,117.5 L572.2,115.9 L571.6,116.4 L571.1,113.4 L570.6,114.2 L570.1,114.8 L569.5,115.2 L569.0,112.6 L568.5,114.5 L568.0,115.0 L567.4,110.9 L566.9,112.7 L566.4,115.3 L565.9,115.6 L565.3,117.7 L564.8,116.5 Z" fill="#a9a9a9"/>
<path d="M571.3 113.3h0M570.3 113.6h0M568.0 112.0h0" stroke="#a9a9a9" stroke-width="2" stroke-linecap="round" fill="none"/>
<line x1="569.2" y1="132.3" x2="569.2" y2="134.7" stroke="#333" stroke-width="0.9"/>
<text transform="translate(572.3,136.6) rotate(-90)" font-size="10" text-anchor="end">33</text>
<path d="M573.9,126.8 Q573.9,127.6 574.9,127.6 L583.1,127.6 Q584.1,127.6 584.1,126.8 L584.1,113.2 L583.6,112.4 L583.1,111.5 L582.6,111.1 L582.1,111.4 L581.5,111.1 L581.0,111.8 L580.5,109.3 L580.0,109.9 L579.5,109.9 L579.0,108.1 L578.5,107.8 L578.0,109.1 L577.5,109.2 L577.0,111.0 L576.5,111.9 L575.9,111.6 L575.4,112.4 L574.9,112.1 L574.4,112.9 L573.9,112.7 Z" fill="#000"/>
<path d="M576.3 110.4h0M575.0 100.8h0M581.1 110.3h0M579.7 101.3h0M578.5 103.0h0M579.0 98.3h0M578.9 104.4h0M579.0 99.6h0M579.1 107.5h0M579.0 100.9h0" stroke="#000" stroke-width="2" stroke-linecap="round" fill="none"/>
<line x1="579.2" y1="132.3" x2="579.2" y2="134.7" stroke="#333" stroke-width="0.9"/>
<text transform="translate(582.3,136.6) rotate(-90)" font-size="10" text-anchor="end">34</text>
<path d="M585.5,126.8 Q585.5,127.6 586.5,127.6 L591.5,127.6 Q592.5,127.6 592.5,126.8 L592.5,117.8 L592.0,116.2 L591.5,115.3 L591.0,112.5 L590.5,114.9 L590.0,112.4 L589.5,114.8 L589.0,111.6 L588.5,114.3 L588.0,111.8 L587.5,114.6 L587.0,114.7 L586.5,114.6 L586.0,115.3 L585.5,113.5 Z" fill="#a9a9a9"/>
<path d="M586.7 111.7h0M589.6 109.8h0M588.6 108.8h0M588.0 107.6h0" stroke="#a9a9a9" stroke-width="2" stroke-linecap="round" fill="none"/>
<line x1="589.3" y1="132.3" x2="589.3" y2="134.7" stroke="#333" stroke-width="0.9"/>
<text transform="translate(592.4,136.6) rotate(-90)" font-size="10" text-anchor="end">35</text>
<path d="M593.7,126.8 Q593.7,127.6 594.7,127.6 L601.1,127.6 Q602.1,127.6 602.1,126.8 L602.1,115.2 L601.6,115.1 L601.1,111.1 L600.5,111.8 L600.0,112.9 L599.5,112.4 L599.0,112.8 L598.4,110.8 L597.9,109.9 L597.4,111.3 L596.9,112.7 L596.3,113.9 L595.8,112.6 L595.3,111.9 L594.8,113.7 L594.2,116.0 L593.7,116.0 Z" fill="#000"/>
<path d="M596.9 111.9h0M595.2 111.4h0M595.0 108.0h0M598.0 109.0h0M600.0 110.0h0" stroke="#000" stroke-width="2" stroke-linecap="round" fill="none"/>
<line x1="598.6" y1="132.3" x2="598.6" y2="134.7" stroke="#333" stroke-width="0.9"/>
<text transform="translate(601.7,136.6) rotate(-90)" font-size="10" text-anchor="end">36</text>
<path d="M603.3,126.8 Q603.3,127.6 604.3,127.6 L609.9,127.6 Q610.9,127.6 610.9,126.8 L610.9,118.7 L610.4,116.7 L609.9,116.3 L609.4,115.4 L608.9,115.8 L608.4,114.1 L607.9,116.3 L607.4,115.3 L606.8,114.5 L606.3,111.2 L605.8,115.7 L605.3,114.3 L604.8,114.0 L604.3,112.2 L603.8,114.8 L603.3,112.7 Z" fill="#a9a9a9"/>
<path d="M605.3 109.5h0M607.4 113.5h0M607.0 112.0h0" stroke="#a9a9a9" stroke-width="2" stroke-linecap="round" fill="none"/>
<line x1="607.7" y1="132.3" x2="607.7" y2="134.7" stroke="#333" stroke-width="0.9"/>
<text transform="translate(610.8,136.6) rotate(-90)" font-size="10" text-anchor="end">37</text>
<path d="M612.1,126.8 Q612.1,127.6 613.1,127.6 L618.2,127.6 Q619.2,127.6 619.2,126.8 L619.2,111.7 L618.7,108.4 L618.2,112.9 L617.7,112.9 L617.2,106.3 L616.7,111.9 L616.2,113.3 L615.7,113.8 L615.1,114.9 L614.6,115.3 L614.1,117.1 L613.6,117.6 L613.1,118.3 L612.6,119.9 L612.1,122.6 Z" fill="#000"/>
<path d="M613.8 113.1h0M613.4 116.0h0" stroke="#000" stroke-width="2" stroke-linecap="round" fill="none"/>
<line x1="615.8" y1="132.3" x2="615.8" y2="134.7" stroke="#333" stroke-width="0.9"/>
<text transform="translate(618.9,136.6) rotate(-90)" font-size="10" text-anchor="end">38</text>
<path d="M620.3,126.8 Q620.3,127.6 621.3,127.6 L646.2,127.6 Q647.2,127.6 647.2,126.8 L647.2,113.4 L646.7,113.1 L646.2,113.0 L645.7,112.1 L645.2,111.6 L644.7,109.3 L644.2,113.1 L643.6,111.5 L643.1,106.8 L642.6,108.0 L642.1,101.3 L641.6,101.7 L641.1,108.3 L640.6,107.1 L640.1,106.5 L639.6,105.8 L639.1,107.6 L638.6,108.5 L638.1,103.5 L637.6,100.0 L637.0,109.2 L636.5,112.6 L636.0,113.3 L635.5,110.6 L635.0,109.6 L634.5,108.3 L634.0,107.2 L633.5,108.8 L633.0,109.4 L632.5,112.3 L632.0,113.2 L631.5,116.3 L631.0,116.5 L630.5,116.8 L629.9,116.7 L629.4,117.3 L628.9,114.5 L628.4,117.3 L627.9,116.1 L627.4,117.5 L626.9,116.2 L626.4,116.5 L625.9,116.4 L625.4,116.0 L624.9,118.2 L624.4,116.3 L623.9,117.4 L623.3,117.6 L622.8,113.5 L622.3,114.3 L621.8,114.2 L621.3,116.9 L620.8,119.7 L620.3,121.0 Z" fill="#a9a9a9"/>
<path d="M644.6 110.7h0M644.2 109.9h0M623.3 115.5h0M635.8 104.6h0M630.2 111.5h0M632.0 110.1h0M623.0 114.6h0M643.7 111.1h0M629.3 112.0h0M630.0 109.0h0M645.0 107.0h0" stroke="#a9a9a9" stroke-width="2" stroke-linecap="round" fill="none"/>
<line x1="633.1" y1="132.3" x2="633.1" y2="134.7" stroke="#333" stroke-width="0.9"/>
<text x="633.1" y="145.2" font-size="10" text-anchor="middle">X</text>
<path d="M499.0 101.8h0M499.5 100.7h0M500.1 99.6h0M500.7 98.5h0M501.3 97.4h0" stroke="#bdbdbd" stroke-width="1.6" stroke-linecap="round" fill="none"/>
<line x1="33.5" y1="95.5" x2="674.0" y2="95.5" stroke="#cc5048" stroke-width="0.85" stroke-dasharray="2.2 1.8"/>
<circle cx="74.4" cy="95.3" r="1.35" fill="#e0321f"/>
<circle cx="122.8" cy="94.6" r="1.35" fill="#e0321f"/>
<circle cx="128.7" cy="73.75" r="1.35" fill="#e0321f"/>
<circle cx="128.7" cy="81.6" r="1.35" fill="#e0321f"/>
<circle cx="139.8" cy="90.2" r="1.35" fill="#e0321f"/>
<circle cx="146.4" cy="94.4" r="1.35" fill="#e0321f"/>
<circle cx="201" cy="75.2" r="1.35" fill="#e0321f"/>
<circle cx="201" cy="81" r="1.35" fill="#e0321f"/>
<circle cx="201" cy="85.4" r="1.35" fill="#e0321f"/>
<circle cx="201" cy="92.7" r="1.35" fill="#e0321f"/>
<circle cx="246.4" cy="76.6" r="1.35" fill="#e0321f"/>
<circle cx="246.4" cy="91.5" r="1.35" fill="#e0321f"/>
<circle cx="246.4" cy="92.7" r="1.35" fill="#e0321f"/>
<circle cx="336.9" cy="14.2" r="1.35" fill="#e0321f"/>
<circle cx="336.9" cy="18.5" r="1.35" fill="#e0321f"/>
<circle cx="336.9" cy="41.6" r="1.35" fill="#e0321f"/>
<circle cx="336.9" cy="43" r="1.35" fill="#e0321f"/>
<circle cx="336.9" cy="44.5" r="1.35" fill="#e0321f"/>
<circle cx="336.9" cy="46" r="1.35" fill="#e0321f"/>
<circle cx="336.8" cy="86.8" r="1.35" fill="#e0321f"/>
<circle cx="336.8" cy="88.6" r="1.35" fill="#e0321f"/>
<circle cx="336.8" cy="90.4" r="1.35" fill="#e0321f"/>
<circle cx="336.8" cy="92.2" r="1.35" fill="#e0321f"/>
<circle cx="336.8" cy="93" r="1.35" fill="#e0321f"/>
<circle cx="379.2" cy="93.8" r="1.35" fill="#e0321f"/>
<circle cx="489" cy="92.9" r="1.35" fill="#e0321f"/>
<circle cx="641.9" cy="61.3" r="1.35" fill="#e0321f"/>
<circle cx="637.7" cy="81.9" r="1.35" fill="#e0321f"/>
<circle cx="637.5" cy="84.2" r="1.15" fill="#e0321f"/>
<circle cx="637.6" cy="85.4" r="1.15" fill="#e0321f"/>
<circle cx="637.8" cy="86.6" r="1.15" fill="#e0321f"/>
<circle cx="637.6" cy="87.8" r="1.15" fill="#e0321f"/>
<circle cx="637.6" cy="89" r="1.15" fill="#e0321f"/>
<circle cx="637.6" cy="90.2" r="1.15" fill="#e0321f"/>
<circle cx="637.8" cy="91.4" r="1.15" fill="#e0321f"/>
<circle cx="637.9" cy="92.6" r="1.15" fill="#e0321f"/>
<circle cx="637.8" cy="93.8" r="1.15" fill="#e0321f"/>
<circle cx="637.5" cy="94.8" r="1.15" fill="#e0321f"/>
<circle cx="642.1" cy="80.3" r="1.25" fill="#e0321f"/>
<circle cx="642.3" cy="81.5" r="1.25" fill="#e0321f"/>
<circle cx="642.0" cy="82.7" r="1.25" fill="#e0321f"/>
<circle cx="641.6" cy="83.9" r="1.25" fill="#e0321f"/>
<circle cx="642.1" cy="85.1" r="1.25" fill="#e0321f"/>
<circle cx="642.2" cy="86.3" r="1.25" fill="#e0321f"/>
<circle cx="641.8" cy="87.5" r="1.25" fill="#e0321f"/>
<circle cx="641.6" cy="88.7" r="1.25" fill="#e0321f"/>
<circle cx="641.7" cy="89.9" r="1.25" fill="#e0321f"/>
<circle cx="641.9" cy="91.1" r="1.25" fill="#e0321f"/>
<circle cx="642.2" cy="92.3" r="1.25" fill="#e0321f"/>
<circle cx="642.0" cy="93.5" r="1.25" fill="#e0321f"/>
<circle cx="642.2" cy="94.8" r="1.25" fill="#e0321f"/>
<text x="127.7" y="68.7" font-size="9.5" font-style="italic" text-anchor="middle">LCORL</text>
<text x="200.7" y="71.3" font-size="9.5" font-style="italic" text-anchor="middle">SMAD2</text>
<text x="247.0" y="72.2" font-size="9.5" font-style="italic" text-anchor="middle">HMGA2</text>
<text x="353.9" y="19.9" font-size="9.5" font-style="italic" text-anchor="middle">IGF1</text>
<text x="642.1" y="57.9" font-size="9.5" font-style="italic" text-anchor="middle">IGSF1</text>
<text x="624.6" y="81.2" font-size="9.5" font-style="italic" text-anchor="middle">IRS4</text>
<text x="-0.3" y="169" font-size="13.5" font-weight="bold">b</text>
<line x1="43.1" y1="175.2" x2="43.1" y2="311.3" stroke="#ececec" stroke-width="0.6"/>
<line x1="90.8" y1="175.2" x2="90.8" y2="311.3" stroke="#ececec" stroke-width="0.6"/>
<line x1="138.5" y1="175.2" x2="138.5" y2="311.3" stroke="#ececec" stroke-width="0.6"/>
<line x1="186.2" y1="175.2" x2="186.2" y2="311.3" stroke="#ececec" stroke-width="0.6"/>
<line x1="34.6" y1="287.7" x2="223.3" y2="287.7" stroke="#ececec" stroke-width="0.6"/>
<line x1="34.6" y1="243.4" x2="223.3" y2="243.4" stroke="#ececec" stroke-width="0.6"/>
<line x1="34.6" y1="199.2" x2="223.3" y2="199.2" stroke="#ececec" stroke-width="0.6"/>
<line x1="34.6" y1="175.2" x2="34.6" y2="311.3" stroke="#333" stroke-width="0.8"/>
<line x1="34.6" y1="311.3" x2="223.3" y2="311.3" stroke="#333" stroke-width="0.8"/>
<line x1="31.5" y1="287.7" x2="34.6" y2="287.7" stroke="#333" stroke-width="0.8"/>
<text x="28.6" y="291.3" font-size="9.8" text-anchor="end">5</text>
<line x1="31.5" y1="243.4" x2="34.6" y2="243.4" stroke="#333" stroke-width="0.8"/>
<text x="28.6" y="247.0" font-size="9.8" text-anchor="end">10</text>
<line x1="31.5" y1="199.2" x2="34.6" y2="199.2" stroke="#333" stroke-width="0.8"/>
<text x="28.6" y="202.8" font-size="9.8" text-anchor="end">15</text>
<line x1="43.1" y1="311.3" x2="43.1" y2="313.8" stroke="#333" stroke-width="0.8"/>
<text x="43.1" y="324.9" font-size="9.8" text-anchor="middle">0</text>
<line x1="90.8" y1="311.3" x2="90.8" y2="313.8" stroke="#333" stroke-width="0.8"/>
<text x="90.8" y="324.9" font-size="9.8" text-anchor="middle">25</text>
<line x1="138.5" y1="311.3" x2="138.5" y2="313.8" stroke="#333" stroke-width="0.8"/>
<text x="138.5" y="324.9" font-size="9.8" text-anchor="middle">50</text>
<line x1="186.2" y1="311.3" x2="186.2" y2="313.8" stroke="#333" stroke-width="0.8"/>
<text x="186.2" y="324.9" font-size="9.8" text-anchor="middle">75</text>
<text x="127.2" y="337.8" font-size="9.7" text-anchor="middle">Standard body weight (kg)</text>
<text transform="translate(9.6,242.8) rotate(-90)" font-size="9.5" text-anchor="middle">Longevity (years)</text>
<text x="165.4" y="196" font-size="9.3"><tspan font-style="italic">r</tspan> = 0.72</text>
<line x1="47.4" y1="209.2" x2="207.2" y2="267.1" stroke="#f08060" stroke-width="0.8"/>
<circle cx="49.3" cy="190.2" r="1.45" fill="#d2691e"/>
<circle cx="62" cy="194.6" r="1.45" fill="#d2691e"/>
<circle cx="56.9" cy="199" r="1.45" fill="#d2691e"/>
<circle cx="49.2" cy="203.4" r="1.45" fill="#d2691e"/>
<circle cx="73.2" cy="203.4" r="1.45" fill="#d2691e"/>
<circle cx="75.6" cy="203.4" r="1.45" fill="#d2691e"/>
<circle cx="47.4" cy="207.7" r="1.45" fill="#d2691e"/>
<circle cx="51.1" cy="207.7" r="1.45" fill="#d2691e"/>
<circle cx="52.5" cy="207.7" r="1.45" fill="#d2691e"/>
<circle cx="59.1" cy="207.7" r="1.45" fill="#d2691e"/>
<circle cx="61" cy="207.7" r="1.45" fill="#d2691e"/>
<circle cx="63" cy="207.7" r="1.45" fill="#d2691e"/>
<circle cx="88.3" cy="207.7" r="1.45" fill="#d2691e"/>
<circle cx="49.6" cy="212.1" r="1.45" fill="#d2691e"/>
<circle cx="51.1" cy="212.1" r="1.45" fill="#d2691e"/>
<circle cx="53.2" cy="212.1" r="1.45" fill="#d2691e"/>
<circle cx="54.7" cy="212.1" r="1.45" fill="#d2691e"/>
<circle cx="56.6" cy="212.1" r="1.45" fill="#d2691e"/>
<circle cx="58.4" cy="212.1" r="1.45" fill="#d2691e"/>
<circle cx="61" cy="212.1" r="1.45" fill="#d2691e"/>
<circle cx="62.4" cy="212.1" r="1.45" fill="#d2691e"/>
<circle cx="68.3" cy="212.1" r="1.45" fill="#d2691e"/>
<circle cx="73.2" cy="212.1" r="1.45" fill="#d2691e"/>
<circle cx="81.7" cy="212.1" r="1.45" fill="#d2691e"/>
<circle cx="88.3" cy="212.1" r="1.45" fill="#d2691e"/>
<circle cx="93.1" cy="212.1" r="1.45" fill="#d2691e"/>
<circle cx="106.5" cy="212.1" r="1.45" fill="#d2691e"/>
<circle cx="50.3" cy="216.5" r="1.45" fill="#d2691e"/>
<circle cx="53.2" cy="216.5" r="1.45" fill="#d2691e"/>
<circle cx="65.4" cy="216.5" r="1.45" fill="#d2691e"/>
<circle cx="68.9" cy="216.5" r="1.45" fill="#d2691e"/>
<circle cx="70" cy="216.5" r="1.45" fill="#d2691e"/>
<circle cx="73.7" cy="216.5" r="1.45" fill="#d2691e"/>
<circle cx="83.9" cy="216.5" r="1.45" fill="#d2691e"/>
<circle cx="86.1" cy="216.5" r="1.45" fill="#d2691e"/>
<circle cx="90.5" cy="216.5" r="1.45" fill="#d2691e"/>
<circle cx="97" cy="216.5" r="1.45" fill="#d2691e"/>
<circle cx="60.5" cy="221.2" r="1.45" fill="#d2691e"/>
<circle cx="67.4" cy="221.2" r="1.45" fill="#d2691e"/>
<circle cx="73.2" cy="221.2" r="1.45" fill="#d2691e"/>
<circle cx="94.9" cy="221.2" r="1.45" fill="#d2691e"/>
<circle cx="62.4" cy="225.5" r="1.45" fill="#d2691e"/>
<circle cx="90.5" cy="225.5" r="1.45" fill="#d2691e"/>
<circle cx="99.2" cy="225.5" r="1.45" fill="#d2691e"/>
<circle cx="109.5" cy="229.9" r="1.45" fill="#d2691e"/>
<circle cx="64.5" cy="234.4" r="1.45" fill="#d2691e"/>
<circle cx="82" cy="234.4" r="1.45" fill="#d2691e"/>
<circle cx="83.4" cy="234.4" r="1.45" fill="#d2691e"/>
<circle cx="84.7" cy="234.4" r="1.45" fill="#d2691e"/>
<circle cx="86" cy="234.4" r="1.45" fill="#d2691e"/>
<circle cx="90.5" cy="234.4" r="1.45" fill="#d2691e"/>
<circle cx="96.3" cy="234.4" r="1.45" fill="#d2691e"/>
<circle cx="97.6" cy="234.4" r="1.45" fill="#d2691e"/>
<circle cx="99" cy="234.4" r="1.45" fill="#d2691e"/>
<circle cx="100.4" cy="234.4" r="1.45" fill="#d2691e"/>
<circle cx="105.7" cy="234.4" r="1.45" fill="#d2691e"/>
<circle cx="112.3" cy="234.4" r="1.45" fill="#d2691e"/>
<circle cx="116.6" cy="234.4" r="1.45" fill="#d2691e"/>
<circle cx="123.3" cy="234.4" r="1.45" fill="#d2691e"/>
<circle cx="140.3" cy="234.5" r="1.45" fill="#d2691e"/>
<circle cx="139.5" cy="239" r="1.45" fill="#d2691e"/>
<circle cx="157.6" cy="243.3" r="1.45" fill="#d2691e"/>
<circle cx="86.1" cy="243.2" r="1.45" fill="#d2691e"/>
<circle cx="92.7" cy="243.2" r="1.45" fill="#d2691e"/>
<circle cx="123" cy="247.6" r="1.45" fill="#d2691e"/>
<circle cx="81.7" cy="252" r="1.45" fill="#d2691e"/>
<circle cx="99.2" cy="252" r="1.45" fill="#d2691e"/>
<circle cx="129.6" cy="252" r="1.45" fill="#d2691e"/>
<circle cx="142.7" cy="252.1" r="1.45" fill="#d2691e"/>
<circle cx="155.5" cy="252.1" r="1.45" fill="#d2691e"/>
<circle cx="176.9" cy="252.1" r="1.45" fill="#d2691e"/>
<circle cx="112.4" cy="256.4" r="1.45" fill="#d2691e"/>
<circle cx="159.5" cy="256.6" r="1.45" fill="#d2691e"/>
<circle cx="140.3" cy="261" r="1.45" fill="#d2691e"/>
<circle cx="207.4" cy="261" r="1.45" fill="#d2691e"/>
<circle cx="125.2" cy="269.6" r="1.45" fill="#d2691e"/>
<circle cx="164" cy="269.8" r="1.45" fill="#d2691e"/>
<circle cx="161.9" cy="274.3" r="1.45" fill="#d2691e"/>
<circle cx="143.1" cy="207.5" r="2.1" fill="#4a63ad"/>
<circle cx="198.5" cy="211.6" r="2.1" fill="#4a63ad"/>
<circle cx="44.4" cy="349.7" r="2.3" fill="#4a63ad"/>
<text x="50.1" y="351.9" font-size="8.3">Outlier breeds:</text>
<text x="50.8" y="363.5" font-size="8.3">- Anatolian Shepherd dog (52.2 kg; 13 years)</text>
<text x="50.8" y="375.1" font-size="8.3">- Tibetan Mastiff (70.3 kg; 13.5 years)</text>
<text x="238.8" y="168.6" font-size="13.5" font-weight="bold">c</text>
<line x1="256.5" y1="197.4" x2="256.5" y2="369.9" stroke="#888" stroke-width="0.9"/>
<line x1="256.5" y1="369.9" x2="455.5" y2="369.9" stroke="#c4c4c4" stroke-width="1.4"/>
<line x1="455.5" y1="197.4" x2="455.5" y2="369.9" stroke="#999" stroke-width="1.2"/>
<line x1="253.6" y1="363.4" x2="256.5" y2="363.4" stroke="#666" stroke-width="0.7"/>
<text x="249.8" y="367.6" font-size="9.9" text-anchor="end">0</text>
<line x1="253.6" y1="326.8" x2="256.5" y2="326.8" stroke="#666" stroke-width="0.7"/>
<text x="249.8" y="331.0" font-size="9.9" text-anchor="end">20</text>
<line x1="253.6" y1="290.2" x2="256.5" y2="290.2" stroke="#666" stroke-width="0.7"/>
<text x="249.8" y="294.4" font-size="9.9" text-anchor="end">40</text>
<line x1="253.6" y1="253.6" x2="256.5" y2="253.6" stroke="#666" stroke-width="0.7"/>
<text x="249.8" y="257.8" font-size="9.9" text-anchor="end">60</text>
<line x1="253.6" y1="217.0" x2="256.5" y2="217.0" stroke="#666" stroke-width="0.7"/>
<text x="249.8" y="221.2" font-size="9.9" text-anchor="end">80</text>
<line x1="269.2" y1="286.0" x2="269.2" y2="318.6" stroke="#444" stroke-width="0.8" stroke-dasharray="2 1"/><line x1="269.2" y1="349.9" x2="269.2" y2="358.6" stroke="#444" stroke-width="0.8" stroke-dasharray="2 1"/><line x1="267.1" y1="286.0" x2="271.4" y2="286.0" stroke="#555" stroke-width="0.6"/><line x1="267.1" y1="358.6" x2="271.4" y2="358.6" stroke="#555" stroke-width="0.6"/><rect x="265.1" y="318.6" width="8.4" height="31.3" fill="#a4dbe8" stroke="#555" stroke-width="0.6"/><line x1="265.1" y1="334.5" x2="273.4" y2="334.5" stroke="#1a1a1a" stroke-width="1.6"/><circle cx="269.2" cy="283.1" r="1.4" fill="none" stroke="#333" stroke-width="0.7"/><circle cx="269.2" cy="280.5" r="1.4" fill="none" stroke="#333" stroke-width="0.7"/><circle cx="269.2" cy="270.3" r="1.4" fill="none" stroke="#333" stroke-width="0.7"/><circle cx="269.2" cy="268.6" r="1.4" fill="none" stroke="#333" stroke-width="0.7"/><circle cx="269.2" cy="255.1" r="1.4" fill="none" stroke="#333" stroke-width="0.7"/><circle cx="269.2" cy="252.5" r="1.4" fill="none" stroke="#333" stroke-width="0.7"/><circle cx="269.2" cy="249.2" r="1.4" fill="none" stroke="#333" stroke-width="0.7"/><circle cx="269.2" cy="235.3" r="1.4" fill="none" stroke="#333" stroke-width="0.7"/>
<line x1="269.2" y1="369.9" x2="269.2" y2="373.5" stroke="#666" stroke-width="0.8"/>
<text transform="translate(272.2,376.5) rotate(-90)" font-size="8.45" text-anchor="end">A/A</text>
<line x1="279.5" y1="249.9" x2="279.5" y2="286.7" stroke="#444" stroke-width="0.8" stroke-dasharray="2 1"/><line x1="279.5" y1="326.1" x2="279.5" y2="357.5" stroke="#444" stroke-width="0.8" stroke-dasharray="2 1"/><line x1="277.3" y1="249.9" x2="281.7" y2="249.9" stroke="#555" stroke-width="0.6"/><line x1="277.3" y1="357.5" x2="281.7" y2="357.5" stroke="#555" stroke-width="0.6"/><rect x="275.3" y="286.7" width="8.4" height="39.3" fill="#a4dbe8" stroke="#555" stroke-width="0.6"/><line x1="275.3" y1="309.6" x2="283.7" y2="309.6" stroke="#1a1a1a" stroke-width="1.6"/><circle cx="279.5" cy="235.3" r="1.4" fill="none" stroke="#333" stroke-width="0.7"/><circle cx="279.5" cy="206.6" r="1.4" fill="none" stroke="#333" stroke-width="0.7"/>
<line x1="279.5" y1="369.9" x2="279.5" y2="373.5" stroke="#666" stroke-width="0.8"/>
<text transform="translate(282.5,376.5) rotate(-90)" font-size="8.45" text-anchor="end">A/D</text>
<line x1="289.7" y1="235.3" x2="289.7" y2="270.3" stroke="#444" stroke-width="0.8" stroke-dasharray="2 1"/><line x1="289.7" y1="313.4" x2="289.7" y2="351.3" stroke="#444" stroke-width="0.8" stroke-dasharray="2 1"/><line x1="287.5" y1="235.3" x2="291.9" y2="235.3" stroke="#555" stroke-width="0.6"/><line x1="287.5" y1="351.3" x2="291.9" y2="351.3" stroke="#555" stroke-width="0.6"/><rect x="285.5" y="270.3" width="8.4" height="43.2" fill="#a4dbe8" stroke="#555" stroke-width="0.6"/><line x1="285.5" y1="293.1" x2="293.9" y2="293.1" stroke="#1a1a1a" stroke-width="1.6"/><circle cx="289.7" cy="206.6" r="1.4" fill="none" stroke="#333" stroke-width="0.7"/>
<line x1="289.7" y1="369.9" x2="289.7" y2="373.5" stroke="#666" stroke-width="0.8"/>
<text transform="translate(292.7,376.5) rotate(-90)" font-size="8.45" text-anchor="end">D/D</text>
<line x1="300.0" y1="247.7" x2="300.0" y2="287.1" stroke="#444" stroke-width="0.8" stroke-dasharray="2 1"/><line x1="300.0" y1="326.1" x2="300.0" y2="357.5" stroke="#444" stroke-width="0.8" stroke-dasharray="2 1"/><line x1="297.8" y1="247.7" x2="302.2" y2="247.7" stroke="#555" stroke-width="0.6"/><line x1="297.8" y1="357.5" x2="302.2" y2="357.5" stroke="#555" stroke-width="0.6"/><rect x="295.8" y="287.1" width="8.4" height="39.0" fill="#d3d3d3" stroke="#555" stroke-width="0.6"/><line x1="295.8" y1="311.8" x2="304.2" y2="311.8" stroke="#1a1a1a" stroke-width="1.6"/><circle cx="300.0" cy="235.3" r="1.4" fill="none" stroke="#333" stroke-width="0.7"/><circle cx="300.0" cy="206.6" r="1.4" fill="none" stroke="#333" stroke-width="0.7"/>
<line x1="300.0" y1="369.9" x2="300.0" y2="373.5" stroke="#666" stroke-width="0.8"/>
<text transform="translate(303.0,376.5) rotate(-90)" font-size="8.45" text-anchor="end">A/A</text>
<line x1="310.2" y1="286.7" x2="310.2" y2="309.6" stroke="#444" stroke-width="0.8" stroke-dasharray="2 1"/><line x1="310.2" y1="346.6" x2="310.2" y2="359.2" stroke="#444" stroke-width="0.8" stroke-dasharray="2 1"/><line x1="308.0" y1="286.7" x2="312.4" y2="286.7" stroke="#555" stroke-width="0.6"/><line x1="308.0" y1="359.2" x2="312.4" y2="359.2" stroke="#555" stroke-width="0.6"/><rect x="306.0" y="309.6" width="8.4" height="37.0" fill="#d3d3d3" stroke="#555" stroke-width="0.6"/><line x1="306.0" y1="334.1" x2="314.4" y2="334.1" stroke="#1a1a1a" stroke-width="1.6"/><circle cx="310.2" cy="270.8" r="1.4" fill="none" stroke="#333" stroke-width="0.7"/><circle cx="310.2" cy="254.1" r="1.4" fill="none" stroke="#333" stroke-width="0.7"/><circle cx="310.2" cy="251.8" r="1.4" fill="none" stroke="#333" stroke-width="0.7"/><circle cx="310.2" cy="249.2" r="1.4" fill="none" stroke="#333" stroke-width="0.7"/><circle cx="310.2" cy="247.6" r="1.4" fill="none" stroke="#333" stroke-width="0.7"/><circle cx="310.2" cy="206.6" r="1.4" fill="none" stroke="#333" stroke-width="0.7"/>
<line x1="310.2" y1="369.9" x2="310.2" y2="373.5" stroke="#666" stroke-width="0.8"/>
<text transform="translate(313.2,376.5) rotate(-90)" font-size="8.45" text-anchor="end">A/D</text>
<line x1="320.5" y1="324.1" x2="320.5" y2="339.6" stroke="#444" stroke-width="0.8" stroke-dasharray="2 1"/><line x1="320.5" y1="355.7" x2="320.5" y2="358.6" stroke="#444" stroke-width="0.8" stroke-dasharray="2 1"/><line x1="318.3" y1="324.1" x2="322.7" y2="324.1" stroke="#555" stroke-width="0.6"/><line x1="318.3" y1="358.6" x2="322.7" y2="358.6" stroke="#555" stroke-width="0.6"/><rect x="316.3" y="339.6" width="8.4" height="16.1" fill="#d3d3d3" stroke="#555" stroke-width="0.6"/><line x1="316.3" y1="350.2" x2="324.7" y2="350.2" stroke="#1a1a1a" stroke-width="1.6"/><circle cx="320.5" cy="322.2" r="1.4" fill="none" stroke="#333" stroke-width="0.7"/><circle cx="320.5" cy="320.4" r="1.4" fill="none" stroke="#333" stroke-width="0.7"/><circle cx="320.5" cy="317.6" r="1.4" fill="none" stroke="#333" stroke-width="0.7"/><circle cx="320.5" cy="315.5" r="1.4" fill="none" stroke="#333" stroke-width="0.7"/><circle cx="320.5" cy="311.2" r="1.4" fill="none" stroke="#333" stroke-width="0.7"/><circle cx="320.5" cy="300.1" r="1.4" fill="none" stroke="#333" stroke-width="0.7"/><circle cx="320.5" cy="286.7" r="1.4" fill="none" stroke="#333" stroke-width="0.7"/><circle cx="320.5" cy="270.3" r="1.4" fill="none" stroke="#333" stroke-width="0.7"/>
<line x1="320.5" y1="369.9" x2="320.5" y2="373.5" stroke="#666" stroke-width="0.8"/>
<text transform="translate(323.5,376.5) rotate(-90)" font-size="8.45" text-anchor="end">D/D</text>
<line x1="330.7" y1="247.7" x2="330.7" y2="286.7" stroke="#444" stroke-width="0.8" stroke-dasharray="2 1"/><line x1="330.7" y1="334.1" x2="330.7" y2="356.3" stroke="#444" stroke-width="0.8" stroke-dasharray="2 1"/><line x1="328.5" y1="247.7" x2="332.9" y2="247.7" stroke="#555" stroke-width="0.6"/><line x1="328.5" y1="356.3" x2="332.9" y2="356.3" stroke="#555" stroke-width="0.6"/><rect x="326.5" y="286.7" width="8.4" height="47.4" fill="#f4b5c0" stroke="#555" stroke-width="0.6"/><line x1="326.5" y1="318.0" x2="334.9" y2="318.0" stroke="#1a1a1a" stroke-width="1.6"/><circle cx="330.7" cy="235.3" r="1.4" fill="none" stroke="#333" stroke-width="0.7"/><circle cx="330.7" cy="206.6" r="1.4" fill="none" stroke="#333" stroke-width="0.7"/>
<line x1="330.7" y1="369.9" x2="330.7" y2="373.5" stroke="#666" stroke-width="0.8"/>
<text transform="translate(333.7,376.5) rotate(-90)" font-size="8.45" text-anchor="end">A/A</text>
<line x1="341.0" y1="268.6" x2="341.0" y2="303.7" stroke="#444" stroke-width="0.8" stroke-dasharray="2 1"/><line x1="341.0" y1="339.2" x2="341.0" y2="357.0" stroke="#444" stroke-width="0.8" stroke-dasharray="2 1"/><line x1="338.8" y1="268.6" x2="343.2" y2="268.6" stroke="#555" stroke-width="0.6"/><line x1="338.8" y1="357.0" x2="343.2" y2="357.0" stroke="#555" stroke-width="0.6"/><rect x="336.8" y="303.7" width="8.4" height="35.5" fill="#f4b5c0" stroke="#555" stroke-width="0.6"/><line x1="336.8" y1="318.0" x2="345.2" y2="318.0" stroke="#1a1a1a" stroke-width="1.6"/><circle cx="341.0" cy="256.3" r="1.4" fill="none" stroke="#333" stroke-width="0.7"/><circle cx="341.0" cy="254.5" r="1.4" fill="none" stroke="#333" stroke-width="0.7"/><circle cx="341.0" cy="252.7" r="1.4" fill="none" stroke="#333" stroke-width="0.7"/><circle cx="341.0" cy="250.9" r="1.4" fill="none" stroke="#333" stroke-width="0.7"/><circle cx="341.0" cy="249.0" r="1.4" fill="none" stroke="#333" stroke-width="0.7"/><circle cx="341.0" cy="246.6" r="1.4" fill="none" stroke="#333" stroke-width="0.7"/><circle cx="341.0" cy="206.6" r="1.4" fill="none" stroke="#333" stroke-width="0.7"/>
<line x1="341.0" y1="369.9" x2="341.0" y2="373.5" stroke="#666" stroke-width="0.8"/>
<text transform="translate(344.0,376.5) rotate(-90)" font-size="8.45" text-anchor="end">A/D</text>
<line x1="351.2" y1="280.5" x2="351.2" y2="311.8" stroke="#444" stroke-width="0.8" stroke-dasharray="2 1"/><line x1="351.2" y1="351.1" x2="351.2" y2="358.6" stroke="#444" stroke-width="0.8" stroke-dasharray="2 1"/><line x1="349.0" y1="280.5" x2="353.4" y2="280.5" stroke="#555" stroke-width="0.6"/><line x1="349.0" y1="358.6" x2="353.4" y2="358.6" stroke="#555" stroke-width="0.6"/><rect x="347.0" y="311.8" width="8.4" height="39.3" fill="#f4b5c0" stroke="#555" stroke-width="0.6"/><line x1="347.0" y1="339.6" x2="355.4" y2="339.6" stroke="#1a1a1a" stroke-width="1.6"/><circle cx="351.2" cy="271.2" r="1.4" fill="none" stroke="#333" stroke-width="0.7"/><circle cx="351.2" cy="269.7" r="1.4" fill="none" stroke="#333" stroke-width="0.7"/><circle cx="351.2" cy="268.2" r="1.4" fill="none" stroke="#333" stroke-width="0.7"/><circle cx="351.2" cy="255.6" r="1.4" fill="none" stroke="#333" stroke-width="0.7"/><circle cx="351.2" cy="252.7" r="1.4" fill="none" stroke="#333" stroke-width="0.7"/><circle cx="351.2" cy="250.3" r="1.4" fill="none" stroke="#333" stroke-width="0.7"/><circle cx="351.2" cy="247.2" r="1.4" fill="none" stroke="#333" stroke-width="0.7"/>
<line x1="351.2" y1="369.9" x2="351.2" y2="373.5" stroke="#666" stroke-width="0.8"/>
<text transform="translate(354.2,376.5) rotate(-90)" font-size="8.45" text-anchor="end">D/D</text>
<line x1="361.4" y1="254.5" x2="361.4" y2="286.7" stroke="#444" stroke-width="0.8" stroke-dasharray="2 1"/><line x1="361.4" y1="320.0" x2="361.4" y2="347.7" stroke="#444" stroke-width="0.8" stroke-dasharray="2 1"/><line x1="359.2" y1="254.5" x2="363.6" y2="254.5" stroke="#555" stroke-width="0.6"/><line x1="359.2" y1="347.7" x2="363.6" y2="347.7" stroke="#555" stroke-width="0.6"/><rect x="357.2" y="286.7" width="8.4" height="33.3" fill="#d3ebc0" stroke="#555" stroke-width="0.6"/><line x1="357.2" y1="309.6" x2="365.6" y2="309.6" stroke="#1a1a1a" stroke-width="1.6"/><circle cx="361.4" cy="252.5" r="1.4" fill="none" stroke="#333" stroke-width="0.7"/><circle cx="361.4" cy="249.9" r="1.4" fill="none" stroke="#333" stroke-width="0.7"/><circle cx="361.4" cy="247.4" r="1.4" fill="none" stroke="#333" stroke-width="0.7"/><circle cx="361.4" cy="235.3" r="1.4" fill="none" stroke="#333" stroke-width="0.7"/><circle cx="361.4" cy="206.6" r="1.4" fill="none" stroke="#333" stroke-width="0.7"/>
<line x1="361.4" y1="369.9" x2="361.4" y2="373.5" stroke="#666" stroke-width="0.8"/>
<text transform="translate(364.4,376.5) rotate(-90)" font-size="8.45" text-anchor="end">A/A</text>
<line x1="371.7" y1="285.1" x2="371.7" y2="311.8" stroke="#444" stroke-width="0.8" stroke-dasharray="2 1"/><line x1="371.7" y1="341.8" x2="371.7" y2="358.6" stroke="#444" stroke-width="0.8" stroke-dasharray="2 1"/><line x1="369.5" y1="285.1" x2="373.9" y2="285.1" stroke="#555" stroke-width="0.6"/><line x1="369.5" y1="358.6" x2="373.9" y2="358.6" stroke="#555" stroke-width="0.6"/><rect x="367.5" y="311.8" width="8.4" height="30.0" fill="#d3ebc0" stroke="#555" stroke-width="0.6"/><line x1="367.5" y1="326.1" x2="375.9" y2="326.1" stroke="#1a1a1a" stroke-width="1.6"/><circle cx="371.7" cy="280.5" r="1.4" fill="none" stroke="#333" stroke-width="0.7"/><circle cx="371.7" cy="271.2" r="1.4" fill="none" stroke="#333" stroke-width="0.7"/><circle cx="371.7" cy="268.2" r="1.4" fill="none" stroke="#333" stroke-width="0.7"/><circle cx="371.7" cy="249.6" r="1.4" fill="none" stroke="#333" stroke-width="0.7"/><circle cx="371.7" cy="206.6" r="1.4" fill="none" stroke="#333" stroke-width="0.7"/>
<line x1="371.7" y1="369.9" x2="371.7" y2="373.5" stroke="#666" stroke-width="0.8"/>
<text transform="translate(374.7,376.5) rotate(-90)" font-size="8.45" text-anchor="end">A/D</text>
<line x1="381.9" y1="324.2" x2="381.9" y2="338.9" stroke="#444" stroke-width="0.8" stroke-dasharray="2 1"/><line x1="381.9" y1="354.1" x2="381.9" y2="358.6" stroke="#444" stroke-width="0.8" stroke-dasharray="2 1"/><line x1="379.7" y1="324.2" x2="384.1" y2="324.2" stroke="#555" stroke-width="0.6"/><line x1="379.7" y1="358.6" x2="384.1" y2="358.6" stroke="#555" stroke-width="0.6"/><rect x="377.7" y="338.9" width="8.4" height="15.2" fill="#d3ebc0" stroke="#555" stroke-width="0.6"/><line x1="377.7" y1="346.6" x2="386.1" y2="346.6" stroke="#1a1a1a" stroke-width="1.6"/><circle cx="381.9" cy="321.3" r="1.4" fill="none" stroke="#333" stroke-width="0.7"/><circle cx="381.9" cy="317.6" r="1.4" fill="none" stroke="#333" stroke-width="0.7"/><circle cx="381.9" cy="314.4" r="1.4" fill="none" stroke="#333" stroke-width="0.7"/><circle cx="381.9" cy="311.1" r="1.4" fill="none" stroke="#333" stroke-width="0.7"/><circle cx="381.9" cy="280.5" r="1.4" fill="none" stroke="#333" stroke-width="0.7"/><circle cx="381.9" cy="268.2" r="1.4" fill="none" stroke="#333" stroke-width="0.7"/><circle cx="381.9" cy="249.6" r="1.4" fill="none" stroke="#333" stroke-width="0.7"/>
<line x1="381.9" y1="369.9" x2="381.9" y2="373.5" stroke="#666" stroke-width="0.8"/>
<text transform="translate(384.9,376.5) rotate(-90)" font-size="8.45" text-anchor="end">D/D</text>
<line x1="392.2" y1="286.4" x2="392.2" y2="318.6" stroke="#444" stroke-width="0.8" stroke-dasharray="2 1"/><line x1="392.2" y1="351.1" x2="392.2" y2="358.6" stroke="#444" stroke-width="0.8" stroke-dasharray="2 1"/><line x1="390.0" y1="286.4" x2="394.4" y2="286.4" stroke="#555" stroke-width="0.6"/><line x1="390.0" y1="358.6" x2="394.4" y2="358.6" stroke="#555" stroke-width="0.6"/><rect x="388.0" y="318.6" width="8.4" height="32.6" fill="#e9bfe2" stroke="#555" stroke-width="0.6"/><line x1="388.0" y1="337.6" x2="396.4" y2="337.6" stroke="#1a1a1a" stroke-width="1.6"/><circle cx="392.2" cy="271.2" r="1.4" fill="none" stroke="#333" stroke-width="0.7"/><circle cx="392.2" cy="255.6" r="1.4" fill="none" stroke="#333" stroke-width="0.7"/><circle cx="392.2" cy="247.7" r="1.4" fill="none" stroke="#333" stroke-width="0.7"/>
<line x1="392.2" y1="369.9" x2="392.2" y2="373.5" stroke="#666" stroke-width="0.8"/>
<text transform="translate(395.2,376.5) rotate(-90)" font-size="8.45" text-anchor="end">A/A</text>
<line x1="402.4" y1="285.1" x2="402.4" y2="309.6" stroke="#444" stroke-width="0.8" stroke-dasharray="2 1"/><line x1="402.4" y1="339.2" x2="402.4" y2="358.6" stroke="#444" stroke-width="0.8" stroke-dasharray="2 1"/><line x1="400.2" y1="285.1" x2="404.6" y2="285.1" stroke="#555" stroke-width="0.6"/><line x1="400.2" y1="358.6" x2="404.6" y2="358.6" stroke="#555" stroke-width="0.6"/><rect x="398.2" y="309.6" width="8.4" height="29.6" fill="#e9bfe2" stroke="#555" stroke-width="0.6"/><line x1="398.2" y1="320.0" x2="406.6" y2="320.0" stroke="#1a1a1a" stroke-width="1.6"/><circle cx="402.4" cy="271.2" r="1.4" fill="none" stroke="#333" stroke-width="0.7"/><circle cx="402.4" cy="247.7" r="1.4" fill="none" stroke="#333" stroke-width="0.7"/>
<line x1="402.4" y1="369.9" x2="402.4" y2="373.5" stroke="#666" stroke-width="0.8"/>
<text transform="translate(405.4,376.5) rotate(-90)" font-size="8.45" text-anchor="end">A/D</text>
<line x1="412.7" y1="235.7" x2="412.7" y2="268.6" stroke="#444" stroke-width="0.8" stroke-dasharray="2 1"/><line x1="412.7" y1="311.8" x2="412.7" y2="353.2" stroke="#444" stroke-width="0.8" stroke-dasharray="2 1"/><line x1="410.5" y1="235.7" x2="414.9" y2="235.7" stroke="#555" stroke-width="0.6"/><line x1="410.5" y1="353.2" x2="414.9" y2="353.2" stroke="#555" stroke-width="0.6"/><rect x="408.5" y="268.6" width="8.4" height="43.2" fill="#e9bfe2" stroke="#555" stroke-width="0.6"/><line x1="408.5" y1="286.7" x2="416.9" y2="286.7" stroke="#1a1a1a" stroke-width="1.6"/><circle cx="412.7" cy="357.0" r="1.4" fill="none" stroke="#333" stroke-width="0.7"/><circle cx="412.7" cy="355.3" r="1.4" fill="none" stroke="#333" stroke-width="0.7"/><circle cx="412.7" cy="206.4" r="1.4" fill="none" stroke="#333" stroke-width="0.7"/>
<line x1="412.7" y1="369.9" x2="412.7" y2="373.5" stroke="#666" stroke-width="0.8"/>
<text transform="translate(415.7,376.5) rotate(-90)" font-size="8.45" text-anchor="end">D/D</text>
<line x1="422.9" y1="286.4" x2="422.9" y2="318.6" stroke="#444" stroke-width="0.8" stroke-dasharray="2 1"/><line x1="422.9" y1="351.1" x2="422.9" y2="358.6" stroke="#444" stroke-width="0.8" stroke-dasharray="2 1"/><line x1="420.7" y1="286.4" x2="425.1" y2="286.4" stroke="#555" stroke-width="0.6"/><line x1="420.7" y1="358.6" x2="425.1" y2="358.6" stroke="#555" stroke-width="0.6"/><rect x="418.7" y="318.6" width="8.4" height="32.6" fill="#f9f1a2" stroke="#555" stroke-width="0.6"/><line x1="418.7" y1="334.5" x2="427.1" y2="334.5" stroke="#1a1a1a" stroke-width="1.6"/><circle cx="422.9" cy="254.0" r="1.4" fill="none" stroke="#333" stroke-width="0.7"/>
<line x1="422.9" y1="369.9" x2="422.9" y2="373.5" stroke="#666" stroke-width="0.8"/>
<text transform="translate(425.9,376.5) rotate(-90)" font-size="8.45" text-anchor="end">A/A</text>
<line x1="433.2" y1="285.1" x2="433.2" y2="309.6" stroke="#444" stroke-width="0.8" stroke-dasharray="2 1"/><line x1="433.2" y1="345.3" x2="433.2" y2="358.6" stroke="#444" stroke-width="0.8" stroke-dasharray="2 1"/><line x1="431.0" y1="285.1" x2="435.4" y2="285.1" stroke="#555" stroke-width="0.6"/><line x1="431.0" y1="358.6" x2="435.4" y2="358.6" stroke="#555" stroke-width="0.6"/><rect x="429.0" y="309.6" width="8.4" height="35.7" fill="#f9f1a2" stroke="#555" stroke-width="0.6"/><line x1="429.0" y1="320.0" x2="437.4" y2="320.0" stroke="#1a1a1a" stroke-width="1.6"/><circle cx="433.2" cy="271.2" r="1.4" fill="none" stroke="#333" stroke-width="0.7"/>
<line x1="433.2" y1="369.9" x2="433.2" y2="373.5" stroke="#666" stroke-width="0.8"/>
<text transform="translate(436.2,376.5) rotate(-90)" font-size="8.45" text-anchor="end">A/D</text>
<line x1="443.4" y1="235.3" x2="443.4" y2="268.6" stroke="#444" stroke-width="0.8" stroke-dasharray="2 1"/><line x1="443.4" y1="324.4" x2="443.4" y2="354.8" stroke="#444" stroke-width="0.8" stroke-dasharray="2 1"/><line x1="441.2" y1="235.3" x2="445.6" y2="235.3" stroke="#555" stroke-width="0.6"/><line x1="441.2" y1="354.8" x2="445.6" y2="354.8" stroke="#555" stroke-width="0.6"/><rect x="439.2" y="268.6" width="8.4" height="55.8" fill="#f9f1a2" stroke="#555" stroke-width="0.6"/><line x1="439.2" y1="302.3" x2="447.6" y2="302.3" stroke="#1a1a1a" stroke-width="1.6"/><circle cx="443.4" cy="206.4" r="1.4" fill="none" stroke="#333" stroke-width="0.7"/>
<line x1="443.4" y1="369.9" x2="443.4" y2="373.5" stroke="#666" stroke-width="0.8"/>
<text transform="translate(446.4,376.5) rotate(-90)" font-size="8.45" text-anchor="end">D/D</text>
<line x1="485.0" y1="197.8" x2="485.0" y2="370.4" stroke="#cfcfcf" stroke-width="1.8"/>
<line x1="485.0" y1="370.4" x2="684.5" y2="370.4" stroke="#777" stroke-width="1"/>
<line x1="684.5" y1="197.8" x2="684.5" y2="370.4" stroke="#bbb" stroke-width="1"/>
<line x1="481.5" y1="349.4" x2="485.0" y2="349.4" stroke="#888" stroke-width="0.7"/>
<text x="478.2" y="353.6" font-size="9.9" text-anchor="end">6</text>
<line x1="481.5" y1="322.1" x2="485.0" y2="322.1" stroke="#888" stroke-width="0.7"/>
<text x="478.2" y="326.3" font-size="9.9" text-anchor="end">8</text>
<line x1="481.5" y1="294.8" x2="485.0" y2="294.8" stroke="#888" stroke-width="0.7"/>
<text x="478.2" y="299.0" font-size="9.9" text-anchor="end">10</text>
<line x1="481.5" y1="267.4" x2="485.0" y2="267.4" stroke="#888" stroke-width="0.7"/>
<text x="478.2" y="271.6" font-size="9.9" text-anchor="end">12</text>
<line x1="481.5" y1="240.1" x2="485.0" y2="240.1" stroke="#888" stroke-width="0.7"/>
<text x="478.2" y="244.3" font-size="9.9" text-anchor="end">14</text>
<line x1="481.5" y1="212.8" x2="485.0" y2="212.8" stroke="#888" stroke-width="0.7"/>
<text x="478.2" y="217.0" font-size="9.9" text-anchor="end">16</text>
<line x1="497.3" y1="212.8" x2="497.3" y2="247.0" stroke="#444" stroke-width="0.8" stroke-dasharray="2 1"/><line x1="497.3" y1="281.1" x2="497.3" y2="315.2" stroke="#444" stroke-width="0.8" stroke-dasharray="2 1"/><line x1="495.1" y1="212.8" x2="499.5" y2="212.8" stroke="#555" stroke-width="0.6"/><line x1="495.1" y1="315.2" x2="499.5" y2="315.2" stroke="#555" stroke-width="0.6"/><rect x="493.0" y="247.0" width="8.6" height="34.2" fill="#a4dbe8" stroke="#555" stroke-width="0.6"/><line x1="493.0" y1="253.8" x2="501.6" y2="253.8" stroke="#1a1a1a" stroke-width="1.6"/><circle cx="497.3" cy="335.7" r="1.4" fill="none" stroke="#333" stroke-width="0.7"/><circle cx="497.3" cy="342.6" r="1.4" fill="none" stroke="#333" stroke-width="0.7"/>
<line x1="497.3" y1="370.4" x2="497.3" y2="373.9" stroke="#777" stroke-width="0.8"/>
<text transform="translate(500.3,376.4) rotate(-90)" font-size="8.45" text-anchor="end">A/A</text>
<line x1="507.6" y1="219.6" x2="507.6" y2="253.8" stroke="#444" stroke-width="0.8" stroke-dasharray="2 1"/><line x1="507.6" y1="287.9" x2="507.6" y2="315.2" stroke="#444" stroke-width="0.8" stroke-dasharray="2 1"/><line x1="505.4" y1="219.6" x2="509.8" y2="219.6" stroke="#555" stroke-width="0.6"/><line x1="505.4" y1="315.2" x2="509.8" y2="315.2" stroke="#555" stroke-width="0.6"/><rect x="503.3" y="253.8" width="8.6" height="34.1" fill="#a4dbe8" stroke="#555" stroke-width="0.6"/><line x1="503.3" y1="281.1" x2="511.9" y2="281.1" stroke="#1a1a1a" stroke-width="1.6"/><circle cx="507.6" cy="212.8" r="1.4" fill="none" stroke="#333" stroke-width="0.7"/><circle cx="507.6" cy="335.7" r="1.4" fill="none" stroke="#333" stroke-width="0.7"/><circle cx="507.6" cy="342.6" r="1.4" fill="none" stroke="#333" stroke-width="0.7"/>
<line x1="507.6" y1="370.4" x2="507.6" y2="373.9" stroke="#777" stroke-width="0.8"/>
<text transform="translate(510.6,376.4) rotate(-90)" font-size="8.45" text-anchor="end">A/D</text>
<line x1="517.9" y1="247.0" x2="517.9" y2="274.3" stroke="#444" stroke-width="0.8" stroke-dasharray="2 1"/><line x1="517.9" y1="308.4" x2="517.9" y2="335.7" stroke="#444" stroke-width="0.8" stroke-dasharray="2 1"/><line x1="515.7" y1="247.0" x2="520.1" y2="247.0" stroke="#555" stroke-width="0.6"/><line x1="515.7" y1="335.7" x2="520.1" y2="335.7" stroke="#555" stroke-width="0.6"/><rect x="513.6" y="274.3" width="8.6" height="34.2" fill="#a4dbe8" stroke="#555" stroke-width="0.6"/><line x1="513.6" y1="281.1" x2="522.2" y2="281.1" stroke="#1a1a1a" stroke-width="1.6"/><circle cx="517.9" cy="219.6" r="1.4" fill="none" stroke="#333" stroke-width="0.7"/>
<line x1="517.9" y1="370.4" x2="517.9" y2="373.9" stroke="#777" stroke-width="0.8"/>
<text transform="translate(520.9,376.4) rotate(-90)" font-size="8.45" text-anchor="end">D/D</text>
<line x1="528.2" y1="212.8" x2="528.2" y2="253.8" stroke="#444" stroke-width="0.8" stroke-dasharray="2 1"/><line x1="528.2" y1="294.8" x2="528.2" y2="335.7" stroke="#444" stroke-width="0.8" stroke-dasharray="2 1"/><line x1="526.0" y1="212.8" x2="530.4" y2="212.8" stroke="#555" stroke-width="0.6"/><line x1="526.0" y1="335.7" x2="530.4" y2="335.7" stroke="#555" stroke-width="0.6"/><rect x="523.9" y="253.8" width="8.6" height="41.0" fill="#d3d3d3" stroke="#555" stroke-width="0.6"/><line x1="523.9" y1="281.1" x2="532.5" y2="281.1" stroke="#1a1a1a" stroke-width="1.6"/><circle cx="528.2" cy="342.6" r="1.4" fill="none" stroke="#333" stroke-width="0.7"/>
<line x1="528.2" y1="370.4" x2="528.2" y2="373.9" stroke="#777" stroke-width="0.8"/>
<text transform="translate(531.2,376.4) rotate(-90)" font-size="8.45" text-anchor="end">A/A</text>
<line x1="538.5" y1="212.8" x2="538.5" y2="247.0" stroke="#444" stroke-width="0.8" stroke-dasharray="2 1"/><line x1="538.5" y1="281.1" x2="538.5" y2="308.4" stroke="#444" stroke-width="0.8" stroke-dasharray="2 1"/><line x1="536.3" y1="212.8" x2="540.7" y2="212.8" stroke="#555" stroke-width="0.6"/><line x1="536.3" y1="308.4" x2="540.7" y2="308.4" stroke="#555" stroke-width="0.6"/><rect x="534.2" y="247.0" width="8.6" height="34.2" fill="#d3d3d3" stroke="#555" stroke-width="0.6"/><line x1="534.2" y1="253.8" x2="542.8" y2="253.8" stroke="#1a1a1a" stroke-width="1.6"/><circle cx="538.5" cy="322.1" r="1.4" fill="none" stroke="#333" stroke-width="0.7"/><circle cx="538.5" cy="335.7" r="1.4" fill="none" stroke="#333" stroke-width="0.7"/><circle cx="538.5" cy="342.6" r="1.4" fill="none" stroke="#333" stroke-width="0.7"/>
<line x1="538.5" y1="370.4" x2="538.5" y2="373.9" stroke="#777" stroke-width="0.8"/>
<text transform="translate(541.5,376.4) rotate(-90)" font-size="8.45" text-anchor="end">A/D</text>
<line x1="548.8" y1="233.3" x2="548.8" y2="240.1" stroke="#444" stroke-width="0.8" stroke-dasharray="2 1"/><line x1="548.8" y1="247.0" x2="548.8" y2="253.8" stroke="#444" stroke-width="0.8" stroke-dasharray="2 1"/><line x1="546.6" y1="233.3" x2="551.0" y2="233.3" stroke="#555" stroke-width="0.6"/><line x1="546.6" y1="253.8" x2="551.0" y2="253.8" stroke="#555" stroke-width="0.6"/><rect x="544.5" y="240.1" width="8.6" height="6.8" fill="#d3d3d3" stroke="#555" stroke-width="0.6"/><line x1="544.5" y1="247.0" x2="553.1" y2="247.0" stroke="#1a1a1a" stroke-width="1.6"/><circle cx="548.8" cy="212.8" r="1.4" fill="none" stroke="#333" stroke-width="0.7"/><circle cx="548.8" cy="219.6" r="1.4" fill="none" stroke="#333" stroke-width="0.7"/><circle cx="548.8" cy="226.5" r="1.4" fill="none" stroke="#333" stroke-width="0.7"/><circle cx="548.8" cy="267.4" r="1.4" fill="none" stroke="#333" stroke-width="0.7"/><circle cx="548.8" cy="274.3" r="1.4" fill="none" stroke="#333" stroke-width="0.7"/><circle cx="548.8" cy="281.1" r="1.4" fill="none" stroke="#333" stroke-width="0.7"/><circle cx="548.8" cy="294.8" r="1.4" fill="none" stroke="#333" stroke-width="0.7"/><circle cx="548.8" cy="301.6" r="1.4" fill="none" stroke="#333" stroke-width="0.7"/><circle cx="548.8" cy="322.1" r="1.4" fill="none" stroke="#333" stroke-width="0.7"/>
<line x1="548.8" y1="370.4" x2="548.8" y2="373.9" stroke="#777" stroke-width="0.8"/>
<text transform="translate(551.8,376.4) rotate(-90)" font-size="8.45" text-anchor="end">D/D</text>
<line x1="559.1" y1="233.3" x2="559.1" y2="253.8" stroke="#444" stroke-width="0.8" stroke-dasharray="2 1"/><line x1="559.1" y1="281.1" x2="559.1" y2="308.4" stroke="#444" stroke-width="0.8" stroke-dasharray="2 1"/><line x1="556.9" y1="233.3" x2="561.3" y2="233.3" stroke="#555" stroke-width="0.6"/><line x1="556.9" y1="308.4" x2="561.3" y2="308.4" stroke="#555" stroke-width="0.6"/><rect x="554.8" y="253.8" width="8.6" height="27.3" fill="#f4b5c0" stroke="#555" stroke-width="0.6"/><line x1="554.8" y1="281.1" x2="563.4" y2="281.1" stroke="#1a1a1a" stroke-width="1.6"/><circle cx="559.1" cy="219.6" r="1.4" fill="none" stroke="#333" stroke-width="0.7"/><circle cx="559.1" cy="315.2" r="1.4" fill="none" stroke="#333" stroke-width="0.7"/><circle cx="559.1" cy="335.7" r="1.4" fill="none" stroke="#333" stroke-width="0.7"/><circle cx="559.1" cy="342.6" r="1.4" fill="none" stroke="#333" stroke-width="0.7"/>
<line x1="559.1" y1="370.4" x2="559.1" y2="373.9" stroke="#777" stroke-width="0.8"/>
<text transform="translate(562.1,376.4) rotate(-90)" font-size="8.45" text-anchor="end">A/A</text>
<line x1="569.4" y1="212.8" x2="569.4" y2="247.0" stroke="#444" stroke-width="0.8" stroke-dasharray="2 1"/><line x1="569.4" y1="281.1" x2="569.4" y2="315.2" stroke="#444" stroke-width="0.8" stroke-dasharray="2 1"/><line x1="567.2" y1="212.8" x2="571.6" y2="212.8" stroke="#555" stroke-width="0.6"/><line x1="567.2" y1="315.2" x2="571.6" y2="315.2" stroke="#555" stroke-width="0.6"/><rect x="565.1" y="247.0" width="8.6" height="34.2" fill="#f4b5c0" stroke="#555" stroke-width="0.6"/><line x1="565.1" y1="267.4" x2="573.7" y2="267.4" stroke="#1a1a1a" stroke-width="1.6"/><circle cx="569.4" cy="335.7" r="1.4" fill="none" stroke="#333" stroke-width="0.7"/><circle cx="569.4" cy="342.6" r="1.4" fill="none" stroke="#333" stroke-width="0.7"/>
<line x1="569.4" y1="370.4" x2="569.4" y2="373.9" stroke="#777" stroke-width="0.8"/>
<text transform="translate(572.4,376.4) rotate(-90)" font-size="8.45" text-anchor="end">A/D</text>
<line x1="579.7" y1="212.8" x2="579.7" y2="247.0" stroke="#444" stroke-width="0.8" stroke-dasharray="2 1"/><line x1="579.7" y1="281.1" x2="579.7" y2="315.2" stroke="#444" stroke-width="0.8" stroke-dasharray="2 1"/><line x1="577.5" y1="212.8" x2="581.9" y2="212.8" stroke="#555" stroke-width="0.6"/><line x1="577.5" y1="315.2" x2="581.9" y2="315.2" stroke="#555" stroke-width="0.6"/><rect x="575.4" y="247.0" width="8.6" height="34.2" fill="#f4b5c0" stroke="#555" stroke-width="0.6"/><line x1="575.4" y1="253.8" x2="584.0" y2="253.8" stroke="#1a1a1a" stroke-width="1.6"/><circle cx="579.7" cy="322.1" r="1.4" fill="none" stroke="#333" stroke-width="0.7"/><circle cx="579.7" cy="335.7" r="1.4" fill="none" stroke="#333" stroke-width="0.7"/>
<line x1="579.7" y1="370.4" x2="579.7" y2="373.9" stroke="#777" stroke-width="0.8"/>
<text transform="translate(582.7,376.4) rotate(-90)" font-size="8.45" text-anchor="end">D/D</text>
<line x1="590.1" y1="233.3" x2="590.1" y2="253.8" stroke="#444" stroke-width="0.8" stroke-dasharray="2 1"/><line x1="590.1" y1="301.6" x2="590.1" y2="342.6" stroke="#444" stroke-width="0.8" stroke-dasharray="2 1"/><line x1="587.9" y1="233.3" x2="592.3" y2="233.3" stroke="#555" stroke-width="0.6"/><line x1="587.9" y1="342.6" x2="592.3" y2="342.6" stroke="#555" stroke-width="0.6"/><rect x="585.8" y="253.8" width="8.6" height="47.8" fill="#d3ebc0" stroke="#555" stroke-width="0.6"/><line x1="585.8" y1="281.1" x2="594.4" y2="281.1" stroke="#1a1a1a" stroke-width="1.6"/>
<line x1="590.1" y1="370.4" x2="590.1" y2="373.9" stroke="#777" stroke-width="0.8"/>
<text transform="translate(593.1,376.4) rotate(-90)" font-size="8.45" text-anchor="end">A/A</text>
<line x1="600.4" y1="212.8" x2="600.4" y2="247.0" stroke="#444" stroke-width="0.8" stroke-dasharray="2 1"/><line x1="600.4" y1="281.1" x2="600.4" y2="308.4" stroke="#444" stroke-width="0.8" stroke-dasharray="2 1"/><line x1="598.2" y1="212.8" x2="602.6" y2="212.8" stroke="#555" stroke-width="0.6"/><line x1="598.2" y1="308.4" x2="602.6" y2="308.4" stroke="#555" stroke-width="0.6"/><rect x="596.1" y="247.0" width="8.6" height="34.2" fill="#d3ebc0" stroke="#555" stroke-width="0.6"/><line x1="596.1" y1="253.8" x2="604.7" y2="253.8" stroke="#1a1a1a" stroke-width="1.6"/><circle cx="600.4" cy="335.7" r="1.4" fill="none" stroke="#333" stroke-width="0.7"/><circle cx="600.4" cy="342.6" r="1.4" fill="none" stroke="#333" stroke-width="0.7"/>
<line x1="600.4" y1="370.4" x2="600.4" y2="373.9" stroke="#777" stroke-width="0.8"/>
<text transform="translate(603.4,376.4) rotate(-90)" font-size="8.45" text-anchor="end">A/D</text>
<line x1="610.7" y1="219.6" x2="610.7" y2="240.1" stroke="#444" stroke-width="0.8" stroke-dasharray="2 1"/><line x1="610.7" y1="260.6" x2="610.7" y2="281.1" stroke="#444" stroke-width="0.8" stroke-dasharray="2 1"/><line x1="608.5" y1="219.6" x2="612.9" y2="219.6" stroke="#555" stroke-width="0.6"/><line x1="608.5" y1="281.1" x2="612.9" y2="281.1" stroke="#555" stroke-width="0.6"/><rect x="606.4" y="240.1" width="8.6" height="20.5" fill="#d3ebc0" stroke="#555" stroke-width="0.6"/><line x1="606.4" y1="247.0" x2="615.0" y2="247.0" stroke="#1a1a1a" stroke-width="1.6"/><circle cx="610.7" cy="212.8" r="1.4" fill="none" stroke="#333" stroke-width="0.7"/><circle cx="610.7" cy="294.8" r="1.4" fill="none" stroke="#333" stroke-width="0.7"/><circle cx="610.7" cy="308.4" r="1.4" fill="none" stroke="#333" stroke-width="0.7"/><circle cx="610.7" cy="342.6" r="1.4" fill="none" stroke="#333" stroke-width="0.7"/>
<line x1="610.7" y1="370.4" x2="610.7" y2="373.9" stroke="#777" stroke-width="0.8"/>
<text transform="translate(613.7,376.4) rotate(-90)" font-size="8.45" text-anchor="end">D/D</text>
<line x1="621.0" y1="219.6" x2="621.0" y2="247.0" stroke="#444" stroke-width="0.8" stroke-dasharray="2 1"/><line x1="621.0" y1="274.3" x2="621.0" y2="294.8" stroke="#444" stroke-width="0.8" stroke-dasharray="2 1"/><line x1="618.8" y1="219.6" x2="623.2" y2="219.6" stroke="#555" stroke-width="0.6"/><line x1="618.8" y1="294.8" x2="623.2" y2="294.8" stroke="#555" stroke-width="0.6"/><rect x="616.7" y="247.0" width="8.6" height="27.3" fill="#e9bfe2" stroke="#555" stroke-width="0.6"/><line x1="616.7" y1="253.8" x2="625.3" y2="253.8" stroke="#1a1a1a" stroke-width="1.6"/><circle cx="621.0" cy="212.8" r="1.4" fill="none" stroke="#333" stroke-width="0.7"/><circle cx="621.0" cy="308.4" r="1.4" fill="none" stroke="#333" stroke-width="0.7"/><circle cx="621.0" cy="335.7" r="1.4" fill="none" stroke="#333" stroke-width="0.7"/>
<line x1="621.0" y1="370.4" x2="621.0" y2="373.9" stroke="#777" stroke-width="0.8"/>
<text transform="translate(624.0,376.4) rotate(-90)" font-size="8.45" text-anchor="end">A/A</text>
<line x1="631.3" y1="233.3" x2="631.3" y2="247.0" stroke="#444" stroke-width="0.8" stroke-dasharray="2 1"/><line x1="631.3" y1="281.1" x2="631.3" y2="308.4" stroke="#444" stroke-width="0.8" stroke-dasharray="2 1"/><line x1="629.1" y1="233.3" x2="633.5" y2="233.3" stroke="#555" stroke-width="0.6"/><line x1="629.1" y1="308.4" x2="633.5" y2="308.4" stroke="#555" stroke-width="0.6"/><rect x="627.0" y="247.0" width="8.6" height="34.2" fill="#e9bfe2" stroke="#555" stroke-width="0.6"/><line x1="627.0" y1="260.6" x2="635.6" y2="260.6" stroke="#1a1a1a" stroke-width="1.6"/><circle cx="631.3" cy="335.7" r="1.4" fill="none" stroke="#333" stroke-width="0.7"/>
<line x1="631.3" y1="370.4" x2="631.3" y2="373.9" stroke="#777" stroke-width="0.8"/>
<text transform="translate(634.3,376.4) rotate(-90)" font-size="8.45" text-anchor="end">A/D</text>
<line x1="641.6" y1="233.3" x2="641.6" y2="260.6" stroke="#444" stroke-width="0.8" stroke-dasharray="2 1"/><line x1="641.6" y1="308.4" x2="641.6" y2="342.6" stroke="#444" stroke-width="0.8" stroke-dasharray="2 1"/><line x1="639.4" y1="233.3" x2="643.8" y2="233.3" stroke="#555" stroke-width="0.6"/><line x1="639.4" y1="342.6" x2="643.8" y2="342.6" stroke="#555" stroke-width="0.6"/><rect x="637.3" y="260.6" width="8.6" height="47.8" fill="#e9bfe2" stroke="#555" stroke-width="0.6"/><line x1="637.3" y1="281.1" x2="645.9" y2="281.1" stroke="#1a1a1a" stroke-width="1.6"/>
<line x1="641.6" y1="370.4" x2="641.6" y2="373.9" stroke="#777" stroke-width="0.8"/>
<text transform="translate(644.6,376.4) rotate(-90)" font-size="8.45" text-anchor="end">D/D</text>
<line x1="651.9" y1="226.5" x2="651.9" y2="247.0" stroke="#444" stroke-width="0.8" stroke-dasharray="2 1"/><line x1="651.9" y1="267.4" x2="651.9" y2="281.1" stroke="#444" stroke-width="0.8" stroke-dasharray="2 1"/><line x1="649.7" y1="226.5" x2="654.1" y2="226.5" stroke="#555" stroke-width="0.6"/><line x1="649.7" y1="281.1" x2="654.1" y2="281.1" stroke="#555" stroke-width="0.6"/><rect x="647.6" y="247.0" width="8.6" height="20.5" fill="#f9f1a2" stroke="#555" stroke-width="0.6"/><line x1="647.6" y1="253.8" x2="656.2" y2="253.8" stroke="#1a1a1a" stroke-width="1.6"/><circle cx="651.9" cy="212.8" r="1.4" fill="none" stroke="#333" stroke-width="0.7"/><circle cx="651.9" cy="219.6" r="1.4" fill="none" stroke="#333" stroke-width="0.7"/><circle cx="651.9" cy="294.8" r="1.4" fill="none" stroke="#333" stroke-width="0.7"/><circle cx="651.9" cy="301.6" r="1.4" fill="none" stroke="#333" stroke-width="0.7"/><circle cx="651.9" cy="308.4" r="1.4" fill="none" stroke="#333" stroke-width="0.7"/><circle cx="651.9" cy="315.2" r="1.4" fill="none" stroke="#333" stroke-width="0.7"/>
<line x1="651.9" y1="370.4" x2="651.9" y2="373.9" stroke="#777" stroke-width="0.8"/>
<text transform="translate(654.9,376.4) rotate(-90)" font-size="8.45" text-anchor="end">A/A</text>
<line x1="662.2" y1="233.3" x2="662.2" y2="240.1" stroke="#444" stroke-width="0.8" stroke-dasharray="2 1"/><line x1="662.2" y1="281.1" x2="662.2" y2="308.4" stroke="#444" stroke-width="0.8" stroke-dasharray="2 1"/><line x1="660.0" y1="233.3" x2="664.4" y2="233.3" stroke="#555" stroke-width="0.6"/><line x1="660.0" y1="308.4" x2="664.4" y2="308.4" stroke="#555" stroke-width="0.6"/><rect x="657.9" y="240.1" width="8.6" height="41.0" fill="#f9f1a2" stroke="#555" stroke-width="0.6"/><line x1="657.9" y1="253.8" x2="666.5" y2="253.8" stroke="#1a1a1a" stroke-width="1.6"/>
<line x1="662.2" y1="370.4" x2="662.2" y2="373.9" stroke="#777" stroke-width="0.8"/>
<text transform="translate(665.2,376.4) rotate(-90)" font-size="8.45" text-anchor="end">A/D</text>
<line x1="672.5" y1="233.3" x2="672.5" y2="260.6" stroke="#444" stroke-width="0.8" stroke-dasharray="2 1"/><line x1="672.5" y1="308.4" x2="672.5" y2="342.6" stroke="#444" stroke-width="0.8" stroke-dasharray="2 1"/><line x1="670.3" y1="233.3" x2="674.7" y2="233.3" stroke="#555" stroke-width="0.6"/><line x1="670.3" y1="342.6" x2="674.7" y2="342.6" stroke="#555" stroke-width="0.6"/><rect x="668.2" y="260.6" width="8.6" height="47.8" fill="#f9f1a2" stroke="#555" stroke-width="0.6"/><line x1="668.2" y1="281.1" x2="676.8" y2="281.1" stroke="#1a1a1a" stroke-width="1.6"/>
<line x1="672.5" y1="370.4" x2="672.5" y2="373.9" stroke="#777" stroke-width="0.8"/>
<text transform="translate(675.5,376.4) rotate(-90)" font-size="8.45" text-anchor="end">D/D</text>
<text x="280.9" y="171" font-size="8.4" font-style="italic" text-anchor="middle">LCORL</text>
<text x="311.9" y="171" font-size="8.4" font-style="italic" text-anchor="middle">SMAD2</text>
<text x="343.8" y="171" font-size="8.4" font-style="italic" text-anchor="middle">HMGA2</text>
<text x="372.9" y="171" font-size="8.4" font-style="italic" text-anchor="middle">IGF1</text>
<text x="403.5" y="171" font-size="8.4" font-style="italic" text-anchor="middle">IRS4</text>
<text x="434.5" y="171" font-size="8.4" font-style="italic" text-anchor="middle">IGSF1</text>
<path d="M269.2,185.2 V182.4 H292.6 V185.2" fill="none" stroke="#555" stroke-width="0.75"/><text x="281.0" y="183.8" font-size="7.5" letter-spacing="0.9" text-anchor="middle">***</text><path d="M269.2,194.5 V191.5 H278.6 V194.5" fill="none" stroke="#555" stroke-width="0.75"/><text x="275.2" y="193.2" font-size="7.5" letter-spacing="0.9" text-anchor="middle">***</text><path d="M282.3,194.5 V191.5 H292.6 V194.5" fill="none" stroke="#555" stroke-width="0.75"/><text x="288.1" y="193.2" font-size="7.5" letter-spacing="0.9" text-anchor="middle">***</text>
<path d="M300.0,185.2 V182.4 H323.4 V185.2" fill="none" stroke="#555" stroke-width="0.75"/><text x="311.8" y="183.8" font-size="7.5" letter-spacing="0.9" text-anchor="middle">***</text><path d="M300.0,194.5 V191.5 H309.4 V194.5" fill="none" stroke="#555" stroke-width="0.75"/><text x="306.0" y="193.2" font-size="7.5" letter-spacing="0.9" text-anchor="middle">***</text><path d="M313.1,194.5 V191.5 H323.4 V194.5" fill="none" stroke="#555" stroke-width="0.75"/><text x="318.8" y="193.2" font-size="7.5" letter-spacing="0.9" text-anchor="middle">***</text>
<path d="M330.7,185.2 V182.4 H354.1 V185.2" fill="none" stroke="#555" stroke-width="0.75"/><text x="342.5" y="183.8" font-size="7.5" letter-spacing="0.9" text-anchor="middle">***</text><path d="M330.7,194.5 V191.5 H340.1 V194.5" fill="none" stroke="#555" stroke-width="0.75"/><text x="336.7" y="193.2" font-size="7.5" letter-spacing="0.9" text-anchor="middle">***</text><path d="M343.8,194.5 V191.5 H354.1 V194.5" fill="none" stroke="#555" stroke-width="0.75"/><text x="349.6" y="193.2" font-size="7.5" letter-spacing="0.9" text-anchor="middle">*</text>
<path d="M361.4,185.2 V182.4 H384.8 V185.2" fill="none" stroke="#555" stroke-width="0.75"/><text x="373.2" y="183.8" font-size="7.5" letter-spacing="0.9" text-anchor="middle">***</text><path d="M361.4,194.5 V191.5 H370.8 V194.5" fill="none" stroke="#555" stroke-width="0.75"/><text x="367.4" y="193.2" font-size="7.5" letter-spacing="0.9" text-anchor="middle">***</text><path d="M374.5,194.5 V191.5 H384.8 V194.5" fill="none" stroke="#555" stroke-width="0.75"/><text x="380.3" y="193.2" font-size="7.5" letter-spacing="0.9" text-anchor="middle">***</text>
<path d="M392.2,185.2 V182.4 H415.6 V185.2" fill="none" stroke="#555" stroke-width="0.75"/><text x="404.0" y="183.8" font-size="7.5" letter-spacing="0.9" text-anchor="middle">***</text><path d="M392.2,194.5 V191.5 H401.6 V194.5" fill="none" stroke="#555" stroke-width="0.75"/><text x="398.2" y="193.2" font-size="7.5" letter-spacing="0.9" text-anchor="middle">***</text><path d="M405.3,194.5 V191.5 H415.6 V194.5" fill="none" stroke="#555" stroke-width="0.75"/><text x="411.0" y="193.2" font-size="7.5" letter-spacing="0.9" text-anchor="middle">***</text>
<path d="M422.9,185.2 V182.4 H446.3 V185.2" fill="none" stroke="#555" stroke-width="0.75"/><text x="434.7" y="183.8" font-size="7.5" letter-spacing="0.9" text-anchor="middle">***</text><path d="M422.9,194.5 V191.5 H432.3 V194.5" fill="none" stroke="#555" stroke-width="0.75"/><text x="428.9" y="193.2" font-size="7.5" letter-spacing="0.9" text-anchor="middle">**</text><path d="M436.0,194.5 V191.5 H446.3 V194.5" fill="none" stroke="#555" stroke-width="0.75"/><text x="441.8" y="193.2" font-size="7.5" letter-spacing="0.9" text-anchor="middle">***</text>
<text x="506.7" y="171" font-size="8.4" font-style="italic" text-anchor="middle">LCORL</text>
<text x="539.5" y="171" font-size="8.4" font-style="italic" text-anchor="middle">SMAD2</text>
<text x="572.8" y="171" font-size="8.4" font-style="italic" text-anchor="middle">HMGA2</text>
<text x="600.6" y="171" font-size="8.4" font-style="italic" text-anchor="middle">IGF1</text>
<text x="631.3" y="171" font-size="8.4" font-style="italic" text-anchor="middle">IRS4</text>
<text x="662.0" y="171" font-size="8.4" font-style="italic" text-anchor="middle">IGSF1</text>
<path d="M497.3,185.2 V182.4 H520.8 V185.2" fill="none" stroke="#555" stroke-width="0.75"/><text x="509.2" y="183.8" font-size="7.5" letter-spacing="0.9" text-anchor="middle">***</text><path d="M497.3,194.5 V191.5 H506.8 V194.5" fill="none" stroke="#555" stroke-width="0.75"/><text x="503.3" y="193.2" font-size="7.5" letter-spacing="0.9" text-anchor="middle">***</text><path d="M510.5,194.5 V191.5 H520.8 V194.5" fill="none" stroke="#555" stroke-width="0.75"/><text x="516.2" y="193.2" font-size="7.5" letter-spacing="0.9" text-anchor="middle">***</text>
<path d="M528.2,185.2 V182.4 H551.7 V185.2" fill="none" stroke="#555" stroke-width="0.75"/><text x="540.1" y="183.8" font-size="7.5" letter-spacing="0.9" text-anchor="middle">***</text><path d="M528.2,194.5 V191.5 H537.7 V194.5" fill="none" stroke="#555" stroke-width="0.75"/><text x="534.2" y="193.2" font-size="7.5" letter-spacing="0.9" text-anchor="middle">***</text><path d="M541.4,194.5 V191.5 H551.7 V194.5" fill="none" stroke="#555" stroke-width="0.75"/><text x="547.2" y="193.2" font-size="7.5" letter-spacing="0.9" text-anchor="middle">***</text>
<path d="M559.1,185.2 V182.4 H582.6 V185.2" fill="none" stroke="#555" stroke-width="0.75"/><text x="571.0" y="183.8" font-size="7.5" letter-spacing="0.9" text-anchor="middle">***</text><path d="M559.1,194.5 V191.5 H568.6 V194.5" fill="none" stroke="#555" stroke-width="0.75"/><text x="565.2" y="193.2" font-size="7.5" letter-spacing="0.9" text-anchor="middle">**</text>
<path d="M590.1,185.2 V182.4 H613.6 V185.2" fill="none" stroke="#555" stroke-width="0.75"/><text x="601.9" y="183.8" font-size="7.5" letter-spacing="0.9" text-anchor="middle">***</text><path d="M590.1,194.5 V191.5 H599.5 V194.5" fill="none" stroke="#555" stroke-width="0.75"/><text x="596.1" y="193.2" font-size="7.5" letter-spacing="0.9" text-anchor="middle">***</text><path d="M603.2,194.5 V191.5 H613.6 V194.5" fill="none" stroke="#555" stroke-width="0.75"/><text x="609.0" y="193.2" font-size="7.5" letter-spacing="0.9" text-anchor="middle">***</text>
<path d="M621.0,185.2 V182.4 H644.5 V185.2" fill="none" stroke="#555" stroke-width="0.75"/><text x="632.8" y="183.8" font-size="7.5" letter-spacing="0.9" text-anchor="middle">***</text><path d="M621.0,194.5 V191.5 H630.4 V194.5" fill="none" stroke="#555" stroke-width="0.75"/><text x="627.0" y="193.2" font-size="7.5" letter-spacing="0.9" text-anchor="middle">**</text><path d="M634.1,194.5 V191.5 H644.5 V194.5" fill="none" stroke="#555" stroke-width="0.75"/><text x="639.9" y="193.2" font-size="7.5" letter-spacing="0.9" text-anchor="middle">***</text>
<path d="M651.9,185.2 V182.4 H675.4 V185.2" fill="none" stroke="#555" stroke-width="0.75"/><text x="663.7" y="183.8" font-size="7.5" letter-spacing="0.9" text-anchor="middle">***</text><path d="M665.0,194.5 V191.5 H675.4 V194.5" fill="none" stroke="#555" stroke-width="0.75"/><text x="670.8" y="193.2" font-size="7.5" letter-spacing="0.9" text-anchor="middle">***</text>
<text x="-0.3" y="413.7" font-size="13.5" font-weight="bold">d</text>
<line x1="2" y1="431.5" x2="684.2" y2="431.5" stroke="#444" stroke-width="0.8"/>
<line x1="2" y1="448.2" x2="684.2" y2="448.2" stroke="#444" stroke-width="0.8"/>
<line x1="2" y1="464.9" x2="684.2" y2="464.9" stroke="#444" stroke-width="0.8"/>
<line x1="2" y1="481.9" x2="684.2" y2="481.9" stroke="#444" stroke-width="0.8"/>
<line x1="2" y1="502.4" x2="684.2" y2="502.4" stroke="#444" stroke-width="0.8"/>
<line x1="683.8" y1="410.2" x2="683.8" y2="532" stroke="#444" stroke-width="0.9"/>
<line x1="83.7" y1="410.2" x2="83.7" y2="532" stroke="#444" stroke-width="0.8"/>
<line x1="183.6" y1="410.2" x2="183.6" y2="532" stroke="#444" stroke-width="0.8"/>
<line x1="283.6" y1="410.2" x2="283.6" y2="532" stroke="#444" stroke-width="0.8"/>
<line x1="383.5" y1="410.2" x2="383.5" y2="532" stroke="#444" stroke-width="0.8"/>
<line x1="483.5" y1="410.2" x2="483.5" y2="532" stroke="#444" stroke-width="0.8"/>
<line x1="583.4" y1="410.2" x2="583.4" y2="532" stroke="#444" stroke-width="0.8"/>
<line x1="117.0" y1="431.5" x2="117.0" y2="532" stroke="#444" stroke-width="0.8"/>
<line x1="150.3" y1="431.5" x2="150.3" y2="532" stroke="#444" stroke-width="0.8"/>
<line x1="216.9" y1="431.5" x2="216.9" y2="532" stroke="#444" stroke-width="0.8"/>
<line x1="250.2" y1="431.5" x2="250.2" y2="532" stroke="#444" stroke-width="0.8"/>
<line x1="316.9" y1="431.5" x2="316.9" y2="532" stroke="#444" stroke-width="0.8"/>
<line x1="350.2" y1="431.5" x2="350.2" y2="532" stroke="#444" stroke-width="0.8"/>
<line x1="416.8" y1="431.5" x2="416.8" y2="532" stroke="#444" stroke-width="0.8"/>
<line x1="450.1" y1="431.5" x2="450.1" y2="532" stroke="#444" stroke-width="0.8"/>
<line x1="516.8" y1="431.5" x2="516.8" y2="532" stroke="#444" stroke-width="0.8"/>
<line x1="550.1" y1="431.5" x2="550.1" y2="532" stroke="#444" stroke-width="0.8"/>
<line x1="616.7" y1="431.5" x2="616.7" y2="532" stroke="#444" stroke-width="0.8"/>
<line x1="650.0" y1="431.5" x2="650.0" y2="532" stroke="#444" stroke-width="0.8"/>
<text x="133.7" y="421" font-size="10" font-style="italic" text-anchor="middle">LCORL</text>
<text x="233.6" y="421" font-size="10" font-style="italic" text-anchor="middle">SMAD2</text>
<text x="333.6" y="421" font-size="10" font-style="italic" text-anchor="middle">HMGA2</text>
<text x="433.5" y="421" font-size="10" font-style="italic" text-anchor="middle">IGF1</text>
<text x="533.5" y="421" font-size="10" font-style="italic" text-anchor="middle">IRS4</text>
<text x="633.4" y="421" font-size="10" font-style="italic" text-anchor="middle">IGSF1</text>
<text x="41.8" y="441.5" font-size="6.9" class="tb" text-anchor="middle">Genotype</text>
<text x="41.8" y="458.6" font-size="6.9" class="tb" text-anchor="middle">Number of dogs</text>
<text x="41.8" y="475.3" font-size="6.9" class="tb" text-anchor="middle">Number of breeds</text>
<text x="41.8" y="490.5" font-size="6.9" class="tb" text-anchor="middle">Mean SBW by genotype</text>
<text x="41.8" y="498.9" font-size="6.9" class="tb" text-anchor="middle">class (kg)</text>
<text x="41.8" y="514.2" font-size="6.9" class="tb" text-anchor="middle">Mean longevity by</text>
<text x="41.8" y="522.6" font-size="6.9" class="tb" text-anchor="middle">genotype class (year)</text>
<text x="100.3" y="441.5" font-size="7" class="tb" text-anchor="middle">A/A</text>
<text x="100.3" y="458.6" font-size="7" class="tb" text-anchor="middle">526</text>
<text x="100.3" y="475.3" font-size="7" class="tb" text-anchor="middle">66</text>
<text x="100.3" y="494.6" font-size="7" class="tb" text-anchor="middle">18.9 ± 14</text>
<text x="100.3" y="518.2" font-size="7" class="tb" text-anchor="middle">12.5 ± 2</text>
<text x="133.6" y="441.5" font-size="7" class="tb" text-anchor="middle">A/D</text>
<text x="133.6" y="458.6" font-size="7" class="tb" text-anchor="middle">139</text>
<text x="133.6" y="475.3" font-size="7" class="tb" text-anchor="middle">47</text>
<text x="133.6" y="494.6" font-size="7" class="tb" text-anchor="middle">32.4 ± 20</text>
<text x="133.6" y="518.2" font-size="7" class="tb" text-anchor="middle">11.5 ± 2</text>
<text x="167.0" y="441.5" font-size="7" class="tb" text-anchor="middle">D/D</text>
<text x="167.0" y="458.6" font-size="7" class="tb" text-anchor="middle">128</text>
<text x="167.0" y="475.3" font-size="7" class="tb" text-anchor="middle">29</text>
<text x="167.0" y="494.6" font-size="7" class="tb" text-anchor="middle">40.7 ± 18</text>
<text x="167.0" y="518.2" font-size="7" class="tb" text-anchor="middle">10.5 ± 2</text>
<text x="200.3" y="441.5" font-size="7" class="tb" text-anchor="middle">A/A</text>
<text x="200.3" y="458.6" font-size="7" class="tb" text-anchor="middle">446</text>
<text x="200.3" y="475.3" font-size="7" class="tb" text-anchor="middle">72</text>
<text x="200.3" y="494.6" font-size="7" class="tb" text-anchor="middle">31.8 ± 18</text>
<text x="200.3" y="518.2" font-size="7" class="tb" text-anchor="middle">11.2 ± 2</text>
<text x="233.6" y="441.5" font-size="7" class="tb" text-anchor="middle">A/D</text>
<text x="233.6" y="458.6" font-size="7" class="tb" text-anchor="middle">173</text>
<text x="233.6" y="475.3" font-size="7" class="tb" text-anchor="middle">57</text>
<text x="233.6" y="494.6" font-size="7" class="tb" text-anchor="middle">21.5 ± 17</text>
<text x="233.6" y="518.2" font-size="7" class="tb" text-anchor="middle">12.4 ± 2</text>
<text x="266.9" y="441.5" font-size="7" class="tb" text-anchor="middle">D/D</text>
<text x="266.9" y="458.6" font-size="7" class="tb" text-anchor="middle">174</text>
<text x="266.9" y="475.3" font-size="7" class="tb" text-anchor="middle">37</text>
<text x="266.9" y="494.6" font-size="7" class="tb" text-anchor="middle">10.1 ± 9</text>
<text x="266.9" y="518.2" font-size="7" class="tb" text-anchor="middle">13.5 ± 1</text>
<text x="300.2" y="441.5" font-size="7" class="tb" text-anchor="middle">A/A</text>
<text x="300.2" y="458.6" font-size="7" class="tb" text-anchor="middle">280</text>
<text x="300.2" y="475.3" font-size="7" class="tb" text-anchor="middle">50</text>
<text x="300.2" y="494.6" font-size="7" class="tb" text-anchor="middle">31.4 ± 19</text>
<text x="300.2" y="518.2" font-size="7" class="tb" text-anchor="middle">11.5 ± 2</text>
<text x="333.5" y="441.5" font-size="7" class="tb" text-anchor="middle">A/D</text>
<text x="333.5" y="458.6" font-size="7" class="tb" text-anchor="middle">168</text>
<text x="333.5" y="475.3" font-size="7" class="tb" text-anchor="middle">51</text>
<text x="333.5" y="494.6" font-size="7" class="tb" text-anchor="middle">26.7 ± 17</text>
<text x="333.5" y="518.2" font-size="7" class="tb" text-anchor="middle">11.9 ± 2</text>
<text x="366.9" y="441.5" font-size="7" class="tb" text-anchor="middle">D/D</text>
<text x="366.9" y="458.6" font-size="7" class="tb" text-anchor="middle">345</text>
<text x="366.9" y="475.3" font-size="7" class="tb" text-anchor="middle">56</text>
<text x="366.9" y="494.6" font-size="7" class="tb" text-anchor="middle">18.5 ± 15</text>
<text x="366.9" y="518.2" font-size="7" class="tb" text-anchor="middle">12.4 ± 2</text>
<text x="400.2" y="441.5" font-size="7" class="tb" text-anchor="middle">A/A</text>
<text x="400.2" y="458.6" font-size="7" class="tb" text-anchor="middle">395</text>
<text x="400.2" y="475.3" font-size="7" class="tb" text-anchor="middle">55</text>
<text x="400.2" y="494.6" font-size="7" class="tb" text-anchor="middle">34.9 ± 16</text>
<text x="400.2" y="518.2" font-size="7" class="tb" text-anchor="middle">11.1 ± 2</text>
<text x="433.5" y="441.5" font-size="7" class="tb" text-anchor="middle">A/D</text>
<text x="433.5" y="458.6" font-size="7" class="tb" text-anchor="middle">106</text>
<text x="433.5" y="475.3" font-size="7" class="tb" text-anchor="middle">43</text>
<text x="433.5" y="494.6" font-size="7" class="tb" text-anchor="middle">23.9 ± 18</text>
<text x="433.5" y="518.2" font-size="7" class="tb" text-anchor="middle">12.1 ± 2</text>
<text x="466.8" y="441.5" font-size="7" class="tb" text-anchor="middle">D/D</text>
<text x="466.8" y="458.6" font-size="7" class="tb" text-anchor="middle">292</text>
<text x="466.8" y="475.3" font-size="7" class="tb" text-anchor="middle">43</text>
<text x="466.8" y="494.6" font-size="7" class="tb" text-anchor="middle">11.5 ± 10</text>
<text x="466.8" y="518.2" font-size="7" class="tb" text-anchor="middle">13.1 ± 2</text>
<text x="500.1" y="441.5" font-size="7" class="tb" text-anchor="middle">A/A</text>
<text x="500.1" y="458.6" font-size="7" class="tb" text-anchor="middle">468</text>
<text x="500.1" y="475.3" font-size="7" class="tb" text-anchor="middle">65</text>
<text x="500.1" y="494.6" font-size="7" class="tb" text-anchor="middle">16.5 ± 11</text>
<text x="500.1" y="518.2" font-size="7" class="tb" text-anchor="middle">12.8 ± 2</text>
<text x="533.4" y="441.5" font-size="7" class="tb" text-anchor="middle">A/D</text>
<text x="533.4" y="458.6" font-size="7" class="tb" text-anchor="middle">70</text>
<text x="533.4" y="475.3" font-size="7" class="tb" text-anchor="middle">37</text>
<text x="533.4" y="494.6" font-size="7" class="tb" text-anchor="middle">23.1 ± 12</text>
<text x="533.4" y="518.2" font-size="7" class="tb" text-anchor="middle">12.1 ± 2</text>
<text x="566.8" y="441.5" font-size="7" class="tb" text-anchor="middle">D/D</text>
<text x="566.8" y="458.6" font-size="7" class="tb" text-anchor="middle">255</text>
<text x="566.8" y="475.3" font-size="7" class="tb" text-anchor="middle">53</text>
<text x="566.8" y="494.6" font-size="7" class="tb" text-anchor="middle">40.5 ± 20</text>
<text x="566.8" y="518.2" font-size="7" class="tb" text-anchor="middle">10.5 ± 2</text>
<text x="600.1" y="441.5" font-size="7" class="tb" text-anchor="middle">A/A</text>
<text x="600.1" y="458.6" font-size="7" class="tb" text-anchor="middle">441</text>
<text x="600.1" y="475.3" font-size="7" class="tb" text-anchor="middle">62</text>
<text x="600.1" y="494.6" font-size="7" class="tb" text-anchor="middle">16.6 ± 11</text>
<text x="600.1" y="518.2" font-size="7" class="tb" text-anchor="middle">12.9 ± 2</text>
<text x="633.4" y="441.5" font-size="7" class="tb" text-anchor="middle">A/D</text>
<text x="633.4" y="458.6" font-size="7" class="tb" text-anchor="middle">51</text>
<text x="633.4" y="475.3" font-size="7" class="tb" text-anchor="middle">27</text>
<text x="633.4" y="494.6" font-size="7" class="tb" text-anchor="middle">21.8 ± 12</text>
<text x="633.4" y="518.2" font-size="7" class="tb" text-anchor="middle">12.5 ± 2</text>
<text x="666.7" y="441.5" font-size="7" class="tb" text-anchor="middle">D/D</text>
<text x="666.7" y="458.6" font-size="7" class="tb" text-anchor="middle">301</text>
<text x="666.7" y="475.3" font-size="7" class="tb" text-anchor="middle">48</text>
<text x="666.7" y="494.6" font-size="7" class="tb" text-anchor="middle">37.3 ± 20</text>
<text x="666.7" y="518.2" font-size="7" class="tb" text-anchor="middle">10.6 ± 2</text>
</svg>
</body></html>
